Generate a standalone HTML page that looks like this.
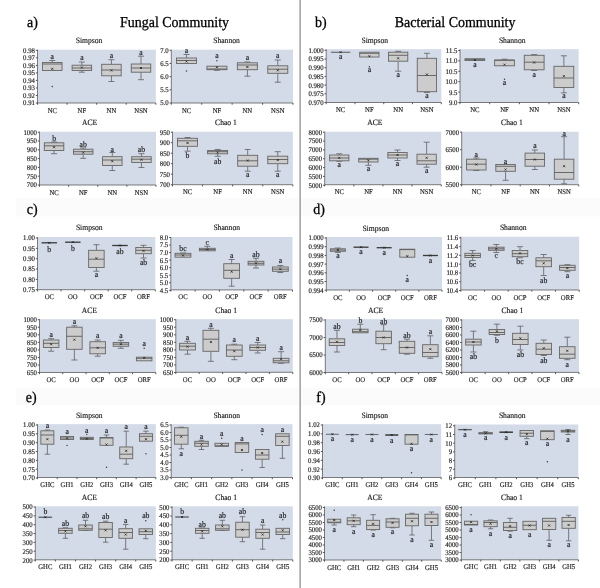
<!DOCTYPE html><html><head><meta charset="utf-8"><title>Figure</title><style>html,body{margin:0;padding:0;background:#fff}svg{display:block}text{font-family:"Liberation Serif",serif;fill:#1a1a1a;text-rendering:geometricPrecision;stroke:#1a1a1a;stroke-width:0.15px}text.big{stroke-width:0.3px;fill:#000;stroke:#000}</style></head><body>
<svg width="600" height="588" viewBox="0 0 600 588">
<rect x="0" y="0" width="600" height="588" fill="#fff"/>
<rect x="16" y="198" width="584" height="18.5" fill="#fbfbfb"/><rect x="16" y="387.5" width="584" height="17.5" fill="#fbfbfb"/>
<rect x="299.3" y="0" width="1.7" height="588" fill="#aaaaaa"/>
<text class="big" transform="translate(27 26.8) scale(0.925 1)" font-size="15.1">a)</text>
<text class="big" transform="translate(120 26.8) scale(0.925 1)" font-size="15.1">Fungal Community</text>
<text class="big" transform="translate(315 26.8) scale(0.925 1)" font-size="15.1">b)</text>
<text class="big" transform="translate(394.8 26.8) scale(0.925 1)" font-size="15.1">Bacterial Community</text>
<text class="big" transform="translate(26.7 214.2) scale(0.925 1)" font-size="15.1">c)</text>
<text class="big" transform="translate(313.3 214.2) scale(0.925 1)" font-size="15.1">d)</text>
<text class="big" transform="translate(25.8 402) scale(0.925 1)" font-size="15.1">e)</text>
<text class="big" transform="translate(316.3 402) scale(0.925 1)" font-size="15.1">f)</text>
<g>
<rect x="37.5" y="49.7" width="118.3" height="53.3" fill="#d3dae8"/>
<text transform="translate(89 43.3) scale(0.94 1)" font-size="8.1" text-anchor="middle">Simpson</text>
<path d="M37.5 49.7V103H155.8" fill="none" stroke="#5c5c5c" stroke-width="0.8"/>
<text transform="translate(34.9 52.7) scale(0.94 1)" font-size="7.2" text-anchor="end">0.98</text>
<text transform="translate(34.9 60.23) scale(0.94 1)" font-size="7.2" text-anchor="end">0.97</text>
<text transform="translate(34.9 67.76) scale(0.94 1)" font-size="7.2" text-anchor="end">0.96</text>
<text transform="translate(34.9 75.29) scale(0.94 1)" font-size="7.2" text-anchor="end">0.95</text>
<text transform="translate(34.9 82.81) scale(0.94 1)" font-size="7.2" text-anchor="end">0.94</text>
<text transform="translate(34.9 90.34) scale(0.94 1)" font-size="7.2" text-anchor="end">0.93</text>
<text transform="translate(34.9 97.87) scale(0.94 1)" font-size="7.2" text-anchor="end">0.92</text>
<text transform="translate(34.9 105.4) scale(0.94 1)" font-size="7.2" text-anchor="end">0.91</text>
<path d="M37.5 50.3h-1.7M37.5 57.83h-1.7M37.5 65.36h-1.7M37.5 72.89h-1.7M37.5 80.41h-1.7M37.5 87.94h-1.7M37.5 95.47h-1.7M37.5 103h-1.7M37.5 103v1.7M67.08 103v1.7M96.65 103v1.7M126.23 103v1.7M155.8 103v1.7" stroke="#444" stroke-width="0.9" fill="none"/>
<text transform="translate(52.29 112.55) scale(0.94 1)" font-size="7.1" text-anchor="middle">NC</text>
<text transform="translate(81.86 112.55) scale(0.94 1)" font-size="7.1" text-anchor="middle">NF</text>
<text transform="translate(111.44 112.55) scale(0.94 1)" font-size="7.1" text-anchor="middle">NN</text>
<text transform="translate(141.01 112.55) scale(0.94 1)" font-size="7.1" text-anchor="middle">NSN</text>
<path d="M52.29 62.5V60.5M49.29 60.5h6" stroke="#606060" stroke-width="0.8" fill="none"/>
<rect x="42.54" y="62.5" width="19.5" height="8" fill="#cccccc" stroke="#666" stroke-width="0.9"/>
<path d="M42.54 64h19.5" stroke="#5c5c5c" stroke-width="0.9"/>
<path d="M51.29 67.8l2 2M51.29 69.8l2 -2" stroke="#1c1c1c" stroke-width="0.75"/>
<circle cx="52.29" cy="86.5" r="0.7" fill="#333"/>
<text transform="translate(52.29 59.15) scale(0.94 1)" font-size="8.2" text-anchor="middle">a</text>
<path d="M81.86 65.2V62M78.86 62h6M81.86 70.5V72.2M78.86 72.2h6" stroke="#606060" stroke-width="0.8" fill="none"/>
<rect x="72.11" y="65.2" width="19.5" height="5.3" fill="#cccccc" stroke="#666" stroke-width="0.9"/>
<path d="M72.11 68h19.5" stroke="#5c5c5c" stroke-width="0.9"/>
<path d="M80.86 66.5l2 2M80.86 68.5l2 -2" stroke="#1c1c1c" stroke-width="0.75"/>
<text transform="translate(81.86 60.45) scale(0.94 1)" font-size="8.2" text-anchor="middle">a</text>
<path d="M111.44 64.3V59.7M108.44 59.7h6M111.44 75.8V81.5M108.44 81.5h6" stroke="#606060" stroke-width="0.8" fill="none"/>
<rect x="101.69" y="64.3" width="19.5" height="11.5" fill="#cccccc" stroke="#666" stroke-width="0.9"/>
<path d="M101.69 70h19.5" stroke="#5c5c5c" stroke-width="0.9"/>
<path d="M110.44 69.4l2 2M110.44 71.4l2 -2" stroke="#1c1c1c" stroke-width="0.75"/>
<text transform="translate(111.44 58.35) scale(0.94 1)" font-size="8.2" text-anchor="middle">a</text>
<path d="M141.01 64V56.2M138.01 56.2h6M141.01 72.2V79.7M138.01 79.7h6" stroke="#606060" stroke-width="0.8" fill="none"/>
<rect x="131.26" y="64" width="19.5" height="8.2" fill="#cccccc" stroke="#666" stroke-width="0.9"/>
<path d="M131.26 68h19.5" stroke="#5c5c5c" stroke-width="0.9"/>
<path d="M140.01 67l2 2M140.01 69l2 -2" stroke="#1c1c1c" stroke-width="0.75"/>
<text transform="translate(141.01 54.85) scale(0.94 1)" font-size="8.2" text-anchor="middle">a</text>
</g>
<g>
<rect x="171.3" y="49.7" width="121.7" height="53.3" fill="#d3dae8"/>
<text transform="translate(226.5 43.3) scale(0.94 1)" font-size="8.1" text-anchor="middle">Shannon</text>
<path d="M171.3 49.7V103H293" fill="none" stroke="#5c5c5c" stroke-width="0.8"/>
<text transform="translate(168.7 52.7) scale(0.94 1)" font-size="7.2" text-anchor="end">7.0</text>
<text transform="translate(168.7 65.88) scale(0.94 1)" font-size="7.2" text-anchor="end">6.5</text>
<text transform="translate(168.7 79.05) scale(0.94 1)" font-size="7.2" text-anchor="end">6.0</text>
<text transform="translate(168.7 92.23) scale(0.94 1)" font-size="7.2" text-anchor="end">5.5</text>
<text transform="translate(168.7 105.4) scale(0.94 1)" font-size="7.2" text-anchor="end">5.0</text>
<path d="M171.3 50.3h-1.7M171.3 63.47h-1.7M171.3 76.65h-1.7M171.3 89.83h-1.7M171.3 103h-1.7M171.3 103v1.7M201.73 103v1.7M232.15 103v1.7M262.57 103v1.7M293 103v1.7" stroke="#444" stroke-width="0.9" fill="none"/>
<text transform="translate(186.51 112.55) scale(0.94 1)" font-size="7.1" text-anchor="middle">NC</text>
<text transform="translate(216.94 112.55) scale(0.94 1)" font-size="7.1" text-anchor="middle">NF</text>
<text transform="translate(247.36 112.55) scale(0.94 1)" font-size="7.1" text-anchor="middle">NN</text>
<text transform="translate(277.79 112.55) scale(0.94 1)" font-size="7.1" text-anchor="middle">NSN</text>
<path d="M186.51 58V54.5M183.51 54.5h6" stroke="#606060" stroke-width="0.8" fill="none"/>
<rect x="176.51" y="58" width="20" height="5.5" fill="#cccccc" stroke="#666" stroke-width="0.9"/>
<path d="M176.51 60.5h20" stroke="#5c5c5c" stroke-width="0.9"/>
<path d="M185.51 60.5l2 2M185.51 62.5l2 -2" stroke="#1c1c1c" stroke-width="0.75"/>
<circle cx="186.51" cy="71" r="0.7" fill="#333"/>
<text transform="translate(186.51 52.65) scale(0.94 1)" font-size="8.2" text-anchor="middle">a</text>
<path d="M216.94 69.7V70.3M213.94 70.3h6" stroke="#606060" stroke-width="0.8" fill="none"/>
<rect x="206.94" y="66.2" width="20" height="3.5" fill="#cccccc" stroke="#666" stroke-width="0.9"/>
<path d="M206.94 69h20" stroke="#5c5c5c" stroke-width="0.9"/>
<path d="M215.94 66.2l2 2M215.94 68.2l2 -2" stroke="#1c1c1c" stroke-width="0.75"/>
<circle cx="216.94" cy="60.8" r="0.7" fill="#333"/>
<text transform="translate(216.94 58.35) scale(0.94 1)" font-size="8.2" text-anchor="middle">a</text>
<path d="M247.36 62.8V62M244.36 62h6M247.36 69.7V76.2M244.36 76.2h6" stroke="#606060" stroke-width="0.8" fill="none"/>
<rect x="237.36" y="62.8" width="20" height="6.9" fill="#cccccc" stroke="#666" stroke-width="0.9"/>
<path d="M237.36 65h20" stroke="#5c5c5c" stroke-width="0.9"/>
<path d="M246.36 66l2 2M246.36 68l2 -2" stroke="#1c1c1c" stroke-width="0.75"/>
<text transform="translate(247.36 60.35) scale(0.94 1)" font-size="8.2" text-anchor="middle">a</text>
<path d="M277.79 65.8V60M274.79 60h6M277.79 73.3V82.2M274.79 82.2h6" stroke="#606060" stroke-width="0.8" fill="none"/>
<rect x="267.79" y="65.8" width="20" height="7.5" fill="#cccccc" stroke="#666" stroke-width="0.9"/>
<path d="M267.79 69.2h20" stroke="#5c5c5c" stroke-width="0.9"/>
<path d="M276.79 69.3l2 2M276.79 71.3l2 -2" stroke="#1c1c1c" stroke-width="0.75"/>
<text transform="translate(277.79 58.35) scale(0.94 1)" font-size="8.2" text-anchor="middle">a</text>
</g>
<g>
<rect x="39.5" y="131.7" width="116.5" height="53.3" fill="#d3dae8"/>
<text transform="translate(89.5 125.3) scale(0.94 1)" font-size="8.1" text-anchor="middle">ACE</text>
<path d="M39.5 131.7V185H156" fill="none" stroke="#5c5c5c" stroke-width="0.8"/>
<text transform="translate(36.9 134.6) scale(0.94 1)" font-size="7.2" text-anchor="end">1000</text>
<text transform="translate(36.9 143.4) scale(0.94 1)" font-size="7.2" text-anchor="end">950</text>
<text transform="translate(36.9 152.2) scale(0.94 1)" font-size="7.2" text-anchor="end">900</text>
<text transform="translate(36.9 161) scale(0.94 1)" font-size="7.2" text-anchor="end">850</text>
<text transform="translate(36.9 169.8) scale(0.94 1)" font-size="7.2" text-anchor="end">800</text>
<text transform="translate(36.9 178.6) scale(0.94 1)" font-size="7.2" text-anchor="end">750</text>
<text transform="translate(36.9 187.4) scale(0.94 1)" font-size="7.2" text-anchor="end">700</text>
<path d="M39.5 132.2h-1.7M39.5 141h-1.7M39.5 149.8h-1.7M39.5 158.6h-1.7M39.5 167.4h-1.7M39.5 176.2h-1.7M39.5 185h-1.7M39.5 185v1.7M68.62 185v1.7M97.75 185v1.7M126.88 185v1.7M156 185v1.7" stroke="#444" stroke-width="0.9" fill="none"/>
<text transform="translate(54.06 194.55) scale(0.94 1)" font-size="7.1" text-anchor="middle">NC</text>
<text transform="translate(83.19 194.55) scale(0.94 1)" font-size="7.1" text-anchor="middle">NF</text>
<text transform="translate(112.31 194.55) scale(0.94 1)" font-size="7.1" text-anchor="middle">NN</text>
<text transform="translate(141.44 194.55) scale(0.94 1)" font-size="7.1" text-anchor="middle">NSN</text>
<path d="M54.06 142.8V142M51.06 142h6M54.06 150.5V153.7M51.06 153.7h6" stroke="#606060" stroke-width="0.8" fill="none"/>
<rect x="44.31" y="142.8" width="19.5" height="7.7" fill="#cccccc" stroke="#666" stroke-width="0.9"/>
<path d="M44.31 145.8h19.5" stroke="#5c5c5c" stroke-width="0.9"/>
<path d="M53.06 146.2l2 2M53.06 148.2l2 -2" stroke="#1c1c1c" stroke-width="0.75"/>
<text transform="translate(54.06 141.35) scale(0.94 1)" font-size="8.2" text-anchor="middle">b</text>
<path d="M83.19 149.2V148M80.19 148h6M83.19 154.2V158.3M80.19 158.3h6" stroke="#606060" stroke-width="0.8" fill="none"/>
<rect x="73.44" y="149.2" width="19.5" height="5" fill="#cccccc" stroke="#666" stroke-width="0.9"/>
<path d="M73.44 151.7h19.5" stroke="#5c5c5c" stroke-width="0.9"/>
<path d="M82.19 151.5l2 2M82.19 153.5l2 -2" stroke="#1c1c1c" stroke-width="0.75"/>
<text transform="translate(83.19 146.95) scale(0.94 1)" font-size="8.2" text-anchor="middle">ab</text>
<path d="M112.31 156.7V152.5M109.31 152.5h6M112.31 165.5V170.5M109.31 170.5h6" stroke="#606060" stroke-width="0.8" fill="none"/>
<rect x="102.56" y="156.7" width="19.5" height="8.8" fill="#cccccc" stroke="#666" stroke-width="0.9"/>
<path d="M102.56 160h19.5" stroke="#5c5c5c" stroke-width="0.9"/>
<path d="M111.31 160.2l2 2M111.31 162.2l2 -2" stroke="#1c1c1c" stroke-width="0.75"/>
<text transform="translate(112.31 151.65) scale(0.94 1)" font-size="8.2" text-anchor="middle">a</text>
<path d="M141.44 156.7V153.7M138.44 153.7h6M141.44 162.5V167.5M138.44 167.5h6" stroke="#606060" stroke-width="0.8" fill="none"/>
<rect x="131.69" y="156.7" width="19.5" height="5.8" fill="#cccccc" stroke="#666" stroke-width="0.9"/>
<path d="M131.69 159.2h19.5" stroke="#5c5c5c" stroke-width="0.9"/>
<path d="M140.44 158.7l2 2M140.44 160.7l2 -2" stroke="#1c1c1c" stroke-width="0.75"/>
<text transform="translate(141.44 151.65) scale(0.94 1)" font-size="8.2" text-anchor="middle">ab</text>
</g>
<g>
<rect x="172.5" y="131.7" width="120.3" height="53" fill="#d3dae8"/>
<text transform="translate(226 125.3) scale(0.94 1)" font-size="8.1" text-anchor="middle">Chao 1</text>
<path d="M172.5 131.7V184.7H292.8" fill="none" stroke="#5c5c5c" stroke-width="0.8"/>
<text transform="translate(169.9 134.6) scale(0.94 1)" font-size="7.2" text-anchor="end">950</text>
<text transform="translate(169.9 145.1) scale(0.94 1)" font-size="7.2" text-anchor="end">900</text>
<text transform="translate(169.9 155.6) scale(0.94 1)" font-size="7.2" text-anchor="end">850</text>
<text transform="translate(169.9 166.1) scale(0.94 1)" font-size="7.2" text-anchor="end">800</text>
<text transform="translate(169.9 176.6) scale(0.94 1)" font-size="7.2" text-anchor="end">750</text>
<text transform="translate(169.9 187.1) scale(0.94 1)" font-size="7.2" text-anchor="end">700</text>
<path d="M172.5 132.2h-1.7M172.5 142.7h-1.7M172.5 153.2h-1.7M172.5 163.7h-1.7M172.5 174.2h-1.7M172.5 184.7h-1.7M172.5 184.7v1.7M202.57 184.7v1.7M232.65 184.7v1.7M262.73 184.7v1.7M292.8 184.7v1.7" stroke="#444" stroke-width="0.9" fill="none"/>
<text transform="translate(187.54 194.25) scale(0.94 1)" font-size="7.1" text-anchor="middle">NC</text>
<text transform="translate(217.61 194.25) scale(0.94 1)" font-size="7.1" text-anchor="middle">NF</text>
<text transform="translate(247.69 194.25) scale(0.94 1)" font-size="7.1" text-anchor="middle">NN</text>
<text transform="translate(277.76 194.25) scale(0.94 1)" font-size="7.1" text-anchor="middle">NSN</text>
<path d="M187.54 138.3V137.5M184.54 137.5h6M187.54 146.3V151.2M184.54 151.2h6" stroke="#606060" stroke-width="0.8" fill="none"/>
<rect x="177.54" y="138.3" width="20" height="8" fill="#cccccc" stroke="#666" stroke-width="0.9"/>
<path d="M177.54 140.8h20" stroke="#5c5c5c" stroke-width="0.9"/>
<path d="M186.54 142l2 2M186.54 144l2 -2" stroke="#1c1c1c" stroke-width="0.75"/>
<text transform="translate(187.54 158.25) scale(0.94 1)" font-size="8.2" text-anchor="middle">b</text>
<path d="M217.61 150.5V149.5M214.61 149.5h6M217.61 153.8V156.3M214.61 156.3h6" stroke="#606060" stroke-width="0.8" fill="none"/>
<rect x="207.61" y="150.5" width="20" height="3.3" fill="#cccccc" stroke="#666" stroke-width="0.9"/>
<path d="M207.61 151.7h20" stroke="#5c5c5c" stroke-width="0.9"/>
<path d="M216.61 151.5l2 2M216.61 153.5l2 -2" stroke="#1c1c1c" stroke-width="0.75"/>
<text transform="translate(217.61 163.75) scale(0.94 1)" font-size="8.2" text-anchor="middle">ab</text>
<path d="M247.69 155.3V149.5M244.69 149.5h6M247.69 166.2V171.2M244.69 171.2h6" stroke="#606060" stroke-width="0.8" fill="none"/>
<rect x="237.69" y="155.3" width="20" height="10.9" fill="#cccccc" stroke="#666" stroke-width="0.9"/>
<path d="M237.69 160.8h20" stroke="#5c5c5c" stroke-width="0.9"/>
<path d="M246.69 159.5l2 2M246.69 161.5l2 -2" stroke="#1c1c1c" stroke-width="0.75"/>
<text transform="translate(247.69 177.15) scale(0.94 1)" font-size="8.2" text-anchor="middle">a</text>
<path d="M277.76 156.2V151.7M274.76 151.7h6M277.76 163.7V171.2M274.76 171.2h6" stroke="#606060" stroke-width="0.8" fill="none"/>
<rect x="267.76" y="156.2" width="20" height="7.5" fill="#cccccc" stroke="#666" stroke-width="0.9"/>
<path d="M267.76 159.5h20" stroke="#5c5c5c" stroke-width="0.9"/>
<path d="M276.76 159l2 2M276.76 161l2 -2" stroke="#1c1c1c" stroke-width="0.75"/>
<text transform="translate(277.76 177.15) scale(0.94 1)" font-size="8.2" text-anchor="middle">a</text>
</g>
<g>
<rect x="326.2" y="49.2" width="115.1" height="53.3" fill="#d3dae8"/>
<text transform="translate(374.8 42.8) scale(0.94 1)" font-size="8.1" text-anchor="middle">Simpson</text>
<path d="M326.2 49.2V102.5H441.3" fill="none" stroke="#5c5c5c" stroke-width="0.8"/>
<text transform="translate(323.6 52.7) scale(0.94 1)" font-size="7.2" text-anchor="end">1.000</text>
<text transform="translate(323.6 61.4) scale(0.94 1)" font-size="7.2" text-anchor="end">0.995</text>
<text transform="translate(323.6 70.1) scale(0.94 1)" font-size="7.2" text-anchor="end">0.990</text>
<text transform="translate(323.6 78.8) scale(0.94 1)" font-size="7.2" text-anchor="end">0.985</text>
<text transform="translate(323.6 87.5) scale(0.94 1)" font-size="7.2" text-anchor="end">0.980</text>
<text transform="translate(323.6 96.2) scale(0.94 1)" font-size="7.2" text-anchor="end">0.975</text>
<text transform="translate(323.6 104.9) scale(0.94 1)" font-size="7.2" text-anchor="end">0.970</text>
<path d="M326.2 50.3h-1.7M326.2 59h-1.7M326.2 67.7h-1.7M326.2 76.4h-1.7M326.2 85.1h-1.7M326.2 93.8h-1.7M326.2 102.5h-1.7M326.2 102.5v1.7M354.98 102.5v1.7M383.75 102.5v1.7M412.52 102.5v1.7M441.3 102.5v1.7" stroke="#444" stroke-width="0.9" fill="none"/>
<text transform="translate(340.59 112.05) scale(0.94 1)" font-size="7.1" text-anchor="middle">NC</text>
<text transform="translate(369.36 112.05) scale(0.94 1)" font-size="7.1" text-anchor="middle">NF</text>
<text transform="translate(398.14 112.05) scale(0.94 1)" font-size="7.1" text-anchor="middle">NN</text>
<text transform="translate(426.91 112.05) scale(0.94 1)" font-size="7.1" text-anchor="middle">NSN</text>
<rect x="330.94" y="51.8" width="19.3" height="0.8" fill="#3a3a3a"/>
<path d="M339.59 51.2l2 2M339.59 53.2l2 -2" stroke="#1c1c1c" stroke-width="0.75"/>
<text transform="translate(340.59 59.15) scale(0.94 1)" font-size="8.2" text-anchor="middle">a</text>
<rect x="359.71" y="52.2" width="19.3" height="4.8" fill="#cccccc" stroke="#666" stroke-width="0.9"/>
<path d="M359.71 53.3h19.3" stroke="#5c5c5c" stroke-width="0.9"/>
<path d="M368.36 55.3l2 2M368.36 57.3l2 -2" stroke="#1c1c1c" stroke-width="0.75"/>
<circle cx="369.36" cy="66.7" r="0.7" fill="#333"/>
<text transform="translate(369.36 72.45) scale(0.94 1)" font-size="8.2" text-anchor="middle">a</text>
<path d="M398.14 52.2V51.3M395.14 51.3h6M398.14 61.2V71.2M395.14 71.2h6" stroke="#606060" stroke-width="0.8" fill="none"/>
<rect x="388.49" y="52.2" width="19.3" height="9" fill="#cccccc" stroke="#666" stroke-width="0.9"/>
<path d="M388.49 55.3h19.3" stroke="#5c5c5c" stroke-width="0.9"/>
<path d="M397.14 57.3l2 2M397.14 59.3l2 -2" stroke="#1c1c1c" stroke-width="0.75"/>
<text transform="translate(398.14 77.45) scale(0.94 1)" font-size="8.2" text-anchor="middle">a</text>
<path d="M426.91 58.3V53.3M423.91 53.3h6M426.91 91.7V92.5M423.91 92.5h6" stroke="#606060" stroke-width="0.8" fill="none"/>
<rect x="417.26" y="58.3" width="19.3" height="33.4" fill="#cccccc" stroke="#666" stroke-width="0.9"/>
<path d="M417.26 75.5h19.3" stroke="#5c5c5c" stroke-width="0.9"/>
<path d="M425.91 73.5l2 2M425.91 75.5l2 -2" stroke="#1c1c1c" stroke-width="0.75"/>
<text transform="translate(426.91 98.25) scale(0.94 1)" font-size="8.2" text-anchor="middle">a</text>
</g>
<g>
<rect x="460" y="49.2" width="118.7" height="53.3" fill="#d3dae8"/>
<text transform="translate(512.2 42.8) scale(0.94 1)" font-size="8.1" text-anchor="middle">Shannon</text>
<path d="M460 49.2V102.5H578.7" fill="none" stroke="#5c5c5c" stroke-width="0.8"/>
<text transform="translate(457.4 52.9) scale(0.94 1)" font-size="7.2" text-anchor="end">11.5</text>
<text transform="translate(457.4 63.3) scale(0.94 1)" font-size="7.2" text-anchor="end">11.0</text>
<text transform="translate(457.4 73.7) scale(0.94 1)" font-size="7.2" text-anchor="end">10.5</text>
<text transform="translate(457.4 84.1) scale(0.94 1)" font-size="7.2" text-anchor="end">10.0</text>
<text transform="translate(457.4 94.5) scale(0.94 1)" font-size="7.2" text-anchor="end">9.5</text>
<text transform="translate(457.4 104.9) scale(0.94 1)" font-size="7.2" text-anchor="end">9.0</text>
<path d="M460 50.5h-1.7M460 60.9h-1.7M460 71.3h-1.7M460 81.7h-1.7M460 92.1h-1.7M460 102.5h-1.7M460 102.5v1.7M489.68 102.5v1.7M519.35 102.5v1.7M549.03 102.5v1.7M578.7 102.5v1.7" stroke="#444" stroke-width="0.9" fill="none"/>
<text transform="translate(474.84 112.05) scale(0.94 1)" font-size="7.1" text-anchor="middle">NC</text>
<text transform="translate(504.51 112.05) scale(0.94 1)" font-size="7.1" text-anchor="middle">NF</text>
<text transform="translate(534.19 112.05) scale(0.94 1)" font-size="7.1" text-anchor="middle">NN</text>
<text transform="translate(563.86 112.05) scale(0.94 1)" font-size="7.1" text-anchor="middle">NSN</text>
<rect x="464.94" y="58.8" width="19.8" height="1.7" fill="#cccccc" stroke="#666" stroke-width="0.9"/>
<path d="M464.94 59.3h19.8" stroke="#5c5c5c" stroke-width="0.9"/>
<path d="M473.84 59l2 2M473.84 61l2 -2" stroke="#1c1c1c" stroke-width="0.75"/>
<text transform="translate(474.84 67.45) scale(0.94 1)" font-size="8.2" text-anchor="middle">a</text>
<path d="M504.51 60V59.2M501.51 59.2h6" stroke="#606060" stroke-width="0.8" fill="none"/>
<rect x="494.61" y="60" width="19.8" height="5.8" fill="#cccccc" stroke="#666" stroke-width="0.9"/>
<path d="M494.61 60.3h19.8" stroke="#5c5c5c" stroke-width="0.9"/>
<path d="M503.51 63.7l2 2M503.51 65.7l2 -2" stroke="#1c1c1c" stroke-width="0.75"/>
<circle cx="504.51" cy="79.2" r="0.7" fill="#333"/>
<text transform="translate(504.51 84.95) scale(0.94 1)" font-size="8.2" text-anchor="middle">a</text>
<path d="M534.19 55.3V54.6M531.19 54.6h6M534.19 69.8V70.5M531.19 70.5h6" stroke="#606060" stroke-width="0.8" fill="none"/>
<rect x="524.29" y="55.3" width="19.8" height="14.5" fill="#cccccc" stroke="#666" stroke-width="0.9"/>
<path d="M524.29 62.2h19.8" stroke="#5c5c5c" stroke-width="0.9"/>
<path d="M533.19 61.5l2 2M533.19 63.5l2 -2" stroke="#1c1c1c" stroke-width="0.75"/>
<text transform="translate(534.19 76.75) scale(0.94 1)" font-size="8.2" text-anchor="middle">a</text>
<path d="M563.86 66.3V55.8M560.86 55.8h6M563.86 87.5V92.8M560.86 92.8h6" stroke="#606060" stroke-width="0.8" fill="none"/>
<rect x="553.96" y="66.3" width="19.8" height="21.2" fill="#cccccc" stroke="#666" stroke-width="0.9"/>
<path d="M553.96 78h19.8" stroke="#5c5c5c" stroke-width="0.9"/>
<path d="M562.86 75.2l2 2M562.86 77.2l2 -2" stroke="#1c1c1c" stroke-width="0.75"/>
<text transform="translate(563.86 97.75) scale(0.94 1)" font-size="8.2" text-anchor="middle">a</text>
</g>
<g>
<rect x="324.7" y="131.7" width="116.5" height="53" fill="#d3dae8"/>
<text transform="translate(374.8 125) scale(0.94 1)" font-size="8.1" text-anchor="middle">ACE</text>
<path d="M324.7 131.7V184.7H441.2" fill="none" stroke="#5c5c5c" stroke-width="0.8"/>
<text transform="translate(322.1 134.6) scale(0.94 1)" font-size="7.2" text-anchor="end">8000</text>
<text transform="translate(322.1 143.45) scale(0.94 1)" font-size="7.2" text-anchor="end">7500</text>
<text transform="translate(322.1 152.3) scale(0.94 1)" font-size="7.2" text-anchor="end">7000</text>
<text transform="translate(322.1 161.15) scale(0.94 1)" font-size="7.2" text-anchor="end">6500</text>
<text transform="translate(322.1 170) scale(0.94 1)" font-size="7.2" text-anchor="end">6000</text>
<text transform="translate(322.1 178.85) scale(0.94 1)" font-size="7.2" text-anchor="end">5500</text>
<text transform="translate(322.1 187.7) scale(0.94 1)" font-size="7.2" text-anchor="end">5000</text>
<path d="M324.7 132.2h-1.7M324.7 141.05h-1.7M324.7 149.9h-1.7M324.7 158.75h-1.7M324.7 167.6h-1.7M324.7 176.45h-1.7M324.7 185.3h-1.7M324.7 184.7v1.7M353.82 184.7v1.7M382.95 184.7v1.7M412.07 184.7v1.7M441.2 184.7v1.7" stroke="#444" stroke-width="0.9" fill="none"/>
<text transform="translate(339.26 194.25) scale(0.94 1)" font-size="7.1" text-anchor="middle">NC</text>
<text transform="translate(368.39 194.25) scale(0.94 1)" font-size="7.1" text-anchor="middle">NF</text>
<text transform="translate(397.51 194.25) scale(0.94 1)" font-size="7.1" text-anchor="middle">NN</text>
<text transform="translate(426.64 194.25) scale(0.94 1)" font-size="7.1" text-anchor="middle">NSN</text>
<path d="M339.26 155V153.8M336.26 153.8h6M339.26 160.8V161.3M336.26 161.3h6" stroke="#606060" stroke-width="0.8" fill="none"/>
<rect x="329.61" y="155" width="19.3" height="5.8" fill="#cccccc" stroke="#666" stroke-width="0.9"/>
<path d="M329.61 158h19.3" stroke="#5c5c5c" stroke-width="0.9"/>
<path d="M338.26 156.8l2 2M338.26 158.8l2 -2" stroke="#1c1c1c" stroke-width="0.75"/>
<text transform="translate(339.26 166.95) scale(0.94 1)" font-size="8.2" text-anchor="middle">a</text>
<path d="M368.39 162V165.3M365.39 165.3h6" stroke="#606060" stroke-width="0.8" fill="none"/>
<rect x="358.74" y="158.3" width="19.3" height="3.7" fill="#cccccc" stroke="#666" stroke-width="0.9"/>
<path d="M358.74 159.2h19.3" stroke="#5c5c5c" stroke-width="0.9"/>
<path d="M367.39 159.3l2 2M367.39 161.3l2 -2" stroke="#1c1c1c" stroke-width="0.75"/>
<text transform="translate(368.39 171.15) scale(0.94 1)" font-size="8.2" text-anchor="middle">a</text>
<path d="M397.51 152.5V150M394.51 150h6M397.51 158V160.5M394.51 160.5h6" stroke="#606060" stroke-width="0.8" fill="none"/>
<rect x="387.86" y="152.5" width="19.3" height="5.5" fill="#cccccc" stroke="#666" stroke-width="0.9"/>
<path d="M387.86 155h19.3" stroke="#5c5c5c" stroke-width="0.9"/>
<path d="M396.51 154l2 2M396.51 156l2 -2" stroke="#1c1c1c" stroke-width="0.75"/>
<text transform="translate(397.51 166.25) scale(0.94 1)" font-size="8.2" text-anchor="middle">a</text>
<path d="M426.64 154.2V142.2M423.64 142.2h6M426.64 164.2V167.2M423.64 167.2h6" stroke="#606060" stroke-width="0.8" fill="none"/>
<rect x="416.99" y="154.2" width="19.3" height="10" fill="#cccccc" stroke="#666" stroke-width="0.9"/>
<path d="M416.99 160.8h19.3" stroke="#5c5c5c" stroke-width="0.9"/>
<path d="M425.64 156.8l2 2M425.64 158.8l2 -2" stroke="#1c1c1c" stroke-width="0.75"/>
<text transform="translate(426.64 172.95) scale(0.94 1)" font-size="8.2" text-anchor="middle">a</text>
</g>
<g>
<rect x="461.7" y="131.7" width="117" height="53" fill="#d3dae8"/>
<text transform="translate(512 125) scale(0.94 1)" font-size="8.1" text-anchor="middle">Chao 1</text>
<path d="M461.7 131.7V184.7H578.7" fill="none" stroke="#5c5c5c" stroke-width="0.8"/>
<text transform="translate(459.1 134.6) scale(0.94 1)" font-size="7.2" text-anchor="end">7000</text>
<text transform="translate(459.1 152.1) scale(0.94 1)" font-size="7.2" text-anchor="end">6500</text>
<text transform="translate(459.1 169.6) scale(0.94 1)" font-size="7.2" text-anchor="end">6000</text>
<text transform="translate(459.1 187.1) scale(0.94 1)" font-size="7.2" text-anchor="end">5500</text>
<path d="M461.7 132.2h-1.7M461.7 149.7h-1.7M461.7 167.2h-1.7M461.7 184.7h-1.7M461.7 184.7v1.7M490.95 184.7v1.7M520.2 184.7v1.7M549.45 184.7v1.7M578.7 184.7v1.7" stroke="#444" stroke-width="0.9" fill="none"/>
<text transform="translate(476.32 194.25) scale(0.94 1)" font-size="7.1" text-anchor="middle">NC</text>
<text transform="translate(505.57 194.25) scale(0.94 1)" font-size="7.1" text-anchor="middle">NF</text>
<text transform="translate(534.83 194.25) scale(0.94 1)" font-size="7.1" text-anchor="middle">NN</text>
<text transform="translate(564.08 194.25) scale(0.94 1)" font-size="7.1" text-anchor="middle">NSN</text>
<path d="M476.32 159.2V158M473.32 158h6M476.32 170V170.5M473.32 170.5h6" stroke="#606060" stroke-width="0.8" fill="none"/>
<rect x="466.57" y="159.2" width="19.5" height="10.8" fill="#cccccc" stroke="#666" stroke-width="0.9"/>
<path d="M466.57 164.2h19.5" stroke="#5c5c5c" stroke-width="0.9"/>
<path d="M475.32 163.5l2 2M475.32 165.5l2 -2" stroke="#1c1c1c" stroke-width="0.75"/>
<text transform="translate(476.32 157.15) scale(0.94 1)" font-size="8.2" text-anchor="middle">a</text>
<path d="M505.57 171.3V180.3M502.57 180.3h6" stroke="#606060" stroke-width="0.8" fill="none"/>
<rect x="495.82" y="164.5" width="19.5" height="6.8" fill="#cccccc" stroke="#666" stroke-width="0.9"/>
<path d="M495.82 166.3h19.5" stroke="#5c5c5c" stroke-width="0.9"/>
<path d="M504.57 168.5l2 2M504.57 170.5l2 -2" stroke="#1c1c1c" stroke-width="0.75"/>
<text transform="translate(505.57 164.15) scale(0.94 1)" font-size="8.2" text-anchor="middle">a</text>
<path d="M534.83 153.1V150M531.83 150h6M534.83 166.2V169.5M531.83 169.5h6" stroke="#606060" stroke-width="0.8" fill="none"/>
<rect x="525.08" y="153.1" width="19.5" height="13.1" fill="#cccccc" stroke="#666" stroke-width="0.9"/>
<path d="M525.08 159.5h19.5" stroke="#5c5c5c" stroke-width="0.9"/>
<path d="M533.83 158.5l2 2M533.83 160.5l2 -2" stroke="#1c1c1c" stroke-width="0.75"/>
<text transform="translate(534.83 148.35) scale(0.94 1)" font-size="8.2" text-anchor="middle">a</text>
<path d="M564.08 159.2V136.7M561.08 136.7h6M564.08 179.2V183.8M561.08 183.8h6" stroke="#606060" stroke-width="0.8" fill="none"/>
<rect x="554.33" y="159.2" width="19.5" height="20" fill="#cccccc" stroke="#666" stroke-width="0.9"/>
<path d="M554.33 172.5h19.5" stroke="#5c5c5c" stroke-width="0.9"/>
<path d="M563.08 165.2l2 2M563.08 167.2l2 -2" stroke="#1c1c1c" stroke-width="0.75"/>
<text transform="translate(564.08 136.15) scale(0.94 1)" font-size="8.2" text-anchor="middle">a</text>
</g>
<g>
<rect x="37.5" y="237" width="117.8" height="52.7" fill="#d3dae8"/>
<text transform="translate(89.2 230.3) scale(0.94 1)" font-size="8.1" text-anchor="middle">Simpson</text>
<path d="M37.5 237V289.7H155.3" fill="none" stroke="#5c5c5c" stroke-width="0.8"/>
<text transform="translate(34.9 240.4) scale(0.94 1)" font-size="7.2" text-anchor="end">1.00</text>
<text transform="translate(34.9 250.74) scale(0.94 1)" font-size="7.2" text-anchor="end">0.95</text>
<text transform="translate(34.9 261.08) scale(0.94 1)" font-size="7.2" text-anchor="end">0.90</text>
<text transform="translate(34.9 271.42) scale(0.94 1)" font-size="7.2" text-anchor="end">0.85</text>
<text transform="translate(34.9 281.76) scale(0.94 1)" font-size="7.2" text-anchor="end">0.80</text>
<text transform="translate(34.9 292.1) scale(0.94 1)" font-size="7.2" text-anchor="end">0.75</text>
<path d="M37.5 238h-1.7M37.5 248.34h-1.7M37.5 258.68h-1.7M37.5 269.02h-1.7M37.5 279.36h-1.7M37.5 289.7h-1.7M37.5 289.7v1.7M61.06 289.7v1.7M84.62 289.7v1.7M108.18 289.7v1.7M131.74 289.7v1.7M155.3 289.7v1.7" stroke="#444" stroke-width="0.9" fill="none"/>
<text transform="translate(49.28 299.25) scale(0.94 1)" font-size="7.1" text-anchor="middle">OC</text>
<text transform="translate(72.84 299.25) scale(0.94 1)" font-size="7.1" text-anchor="middle">OO</text>
<text transform="translate(96.4 299.25) scale(0.94 1)" font-size="7.1" text-anchor="middle">OCP</text>
<text transform="translate(119.96 299.25) scale(0.94 1)" font-size="7.1" text-anchor="middle">OCF</text>
<text transform="translate(143.52 299.25) scale(0.94 1)" font-size="7.1" text-anchor="middle">ORF</text>
<rect x="41.53" y="242.15" width="15.5" height="1.3" fill="#3a3a3a"/>
<path d="M48.28 241.8l2 2M48.28 243.8l2 -2" stroke="#1c1c1c" stroke-width="0.75"/>
<text transform="translate(49.28 251.95) scale(0.94 1)" font-size="8.2" text-anchor="middle">b</text>
<rect x="65.09" y="241.55" width="15.5" height="1.3" fill="#3a3a3a"/>
<path d="M71.84 241.2l2 2M71.84 243.2l2 -2" stroke="#1c1c1c" stroke-width="0.75"/>
<text transform="translate(72.84 251.45) scale(0.94 1)" font-size="8.2" text-anchor="middle">b</text>
<path d="M96.4 250.3V244.7M93.4 244.7h6M96.4 267.5V271.2M93.4 271.2h6" stroke="#606060" stroke-width="0.8" fill="none"/>
<rect x="88.65" y="250.3" width="15.5" height="17.2" fill="#cccccc" stroke="#666" stroke-width="0.9"/>
<path d="M88.65 259.2h15.5" stroke="#5c5c5c" stroke-width="0.9"/>
<path d="M95.4 257.3l2 2M95.4 259.3l2 -2" stroke="#1c1c1c" stroke-width="0.75"/>
<text transform="translate(96.4 277.45) scale(0.94 1)" font-size="8.2" text-anchor="middle">a</text>
<rect x="112.21" y="244.85" width="15.5" height="1.3" fill="#3a3a3a"/>
<path d="M118.96 244.5l2 2M118.96 246.5l2 -2" stroke="#1c1c1c" stroke-width="0.75"/>
<text transform="translate(119.96 254.15) scale(0.94 1)" font-size="8.2" text-anchor="middle">ab</text>
<path d="M143.52 247.5V245.3M140.52 245.3h6M143.52 253.7V258M140.52 258h6" stroke="#606060" stroke-width="0.8" fill="none"/>
<rect x="135.77" y="247.5" width="15.5" height="6.2" fill="#cccccc" stroke="#666" stroke-width="0.9"/>
<path d="M135.77 250.3h15.5" stroke="#5c5c5c" stroke-width="0.9"/>
<path d="M142.52 249.8l2 2M142.52 251.8l2 -2" stroke="#1c1c1c" stroke-width="0.75"/>
<text transform="translate(143.52 265.45) scale(0.94 1)" font-size="8.2" text-anchor="middle">ab</text>
</g>
<g>
<rect x="170.8" y="237" width="121.7" height="52.9" fill="#d3dae8"/>
<text transform="translate(226.7 230.3) scale(0.94 1)" font-size="8.1" text-anchor="middle">Shannon</text>
<path d="M170.8 237V289.9H292.5" fill="none" stroke="#5c5c5c" stroke-width="0.8"/>
<text transform="translate(168.2 239.9) scale(0.94 1)" font-size="7.2" text-anchor="end">8.0</text>
<text transform="translate(168.2 247.44) scale(0.94 1)" font-size="7.2" text-anchor="end">7.5</text>
<text transform="translate(168.2 254.99) scale(0.94 1)" font-size="7.2" text-anchor="end">7.0</text>
<text transform="translate(168.2 262.53) scale(0.94 1)" font-size="7.2" text-anchor="end">6.5</text>
<text transform="translate(168.2 270.07) scale(0.94 1)" font-size="7.2" text-anchor="end">6.0</text>
<text transform="translate(168.2 277.61) scale(0.94 1)" font-size="7.2" text-anchor="end">5.5</text>
<text transform="translate(168.2 285.16) scale(0.94 1)" font-size="7.2" text-anchor="end">5.0</text>
<text transform="translate(168.2 292.7) scale(0.94 1)" font-size="7.2" text-anchor="end">4.5</text>
<path d="M170.8 237.5h-1.7M170.8 245.04h-1.7M170.8 252.59h-1.7M170.8 260.13h-1.7M170.8 267.67h-1.7M170.8 275.21h-1.7M170.8 282.76h-1.7M170.8 290.3h-1.7M170.8 289.9v1.7M195.14 289.9v1.7M219.48 289.9v1.7M243.82 289.9v1.7M268.16 289.9v1.7M292.5 289.9v1.7" stroke="#444" stroke-width="0.9" fill="none"/>
<text transform="translate(182.97 299.45) scale(0.94 1)" font-size="7.1" text-anchor="middle">OC</text>
<text transform="translate(207.31 299.45) scale(0.94 1)" font-size="7.1" text-anchor="middle">OO</text>
<text transform="translate(231.65 299.45) scale(0.94 1)" font-size="7.1" text-anchor="middle">OCP</text>
<text transform="translate(255.99 299.45) scale(0.94 1)" font-size="7.1" text-anchor="middle">OCF</text>
<text transform="translate(280.33 299.45) scale(0.94 1)" font-size="7.1" text-anchor="middle">ORF</text>
<path d="M182.97 253.3V253M179.97 253h6" stroke="#606060" stroke-width="0.8" fill="none"/>
<rect x="175.07" y="253.3" width="15.8" height="3.9" fill="#cccccc" stroke="#666" stroke-width="0.9"/>
<path d="M175.07 255h15.8" stroke="#5c5c5c" stroke-width="0.9"/>
<path d="M181.97 254.5l2 2M181.97 256.5l2 -2" stroke="#1c1c1c" stroke-width="0.75"/>
<text transform="translate(182.97 251.35) scale(0.94 1)" font-size="8.2" text-anchor="middle">bc</text>
<path d="M207.31 248.3V246.3M204.31 246.3h6" stroke="#606060" stroke-width="0.8" fill="none"/>
<rect x="199.41" y="248.3" width="15.8" height="2.5" fill="#cccccc" stroke="#666" stroke-width="0.9"/>
<path d="M199.41 249.5h15.8" stroke="#5c5c5c" stroke-width="0.9"/>
<path d="M206.31 248.5l2 2M206.31 250.5l2 -2" stroke="#1c1c1c" stroke-width="0.75"/>
<text transform="translate(207.31 244.65) scale(0.94 1)" font-size="8.2" text-anchor="middle">c</text>
<path d="M231.65 263.7V259.5M228.65 259.5h6M231.65 278.3V286.2M228.65 286.2h6" stroke="#606060" stroke-width="0.8" fill="none"/>
<rect x="223.75" y="263.7" width="15.8" height="14.6" fill="#cccccc" stroke="#666" stroke-width="0.9"/>
<path d="M223.75 270.3h15.8" stroke="#5c5c5c" stroke-width="0.9"/>
<path d="M230.65 270.7l2 2M230.65 272.7l2 -2" stroke="#1c1c1c" stroke-width="0.75"/>
<text transform="translate(231.65 257.85) scale(0.94 1)" font-size="8.2" text-anchor="middle">a</text>
<path d="M255.99 261.3V258.3M252.99 258.3h6M255.99 265V268M252.99 268h6" stroke="#606060" stroke-width="0.8" fill="none"/>
<rect x="248.09" y="261.3" width="15.8" height="3.7" fill="#cccccc" stroke="#666" stroke-width="0.9"/>
<path d="M248.09 263.3h15.8" stroke="#5c5c5c" stroke-width="0.9"/>
<path d="M254.99 262.3l2 2M254.99 264.3l2 -2" stroke="#1c1c1c" stroke-width="0.75"/>
<text transform="translate(255.99 256.65) scale(0.94 1)" font-size="8.2" text-anchor="middle">ab</text>
<path d="M280.33 267V265.5M277.33 265.5h6M280.33 271.3V272.5M277.33 272.5h6" stroke="#606060" stroke-width="0.8" fill="none"/>
<rect x="272.43" y="267" width="15.8" height="4.3" fill="#cccccc" stroke="#666" stroke-width="0.9"/>
<path d="M272.43 269.2h15.8" stroke="#5c5c5c" stroke-width="0.9"/>
<path d="M279.33 268.2l2 2M279.33 270.2l2 -2" stroke="#1c1c1c" stroke-width="0.75"/>
<text transform="translate(280.33 263.35) scale(0.94 1)" font-size="8.2" text-anchor="middle">a</text>
</g>
<g>
<rect x="39.5" y="319.2" width="116.3" height="53.3" fill="#d3dae8"/>
<text transform="translate(89.3 312.8) scale(0.94 1)" font-size="8.1" text-anchor="middle">ACE</text>
<path d="M39.5 319.2V372.5H155.8" fill="none" stroke="#5c5c5c" stroke-width="0.8"/>
<text transform="translate(36.9 322.1) scale(0.94 1)" font-size="7.2" text-anchor="end">1000</text>
<text transform="translate(36.9 329.66) scale(0.94 1)" font-size="7.2" text-anchor="end">950</text>
<text transform="translate(36.9 337.21) scale(0.94 1)" font-size="7.2" text-anchor="end">900</text>
<text transform="translate(36.9 344.77) scale(0.94 1)" font-size="7.2" text-anchor="end">850</text>
<text transform="translate(36.9 352.33) scale(0.94 1)" font-size="7.2" text-anchor="end">800</text>
<text transform="translate(36.9 359.89) scale(0.94 1)" font-size="7.2" text-anchor="end">750</text>
<text transform="translate(36.9 367.44) scale(0.94 1)" font-size="7.2" text-anchor="end">700</text>
<text transform="translate(36.9 375) scale(0.94 1)" font-size="7.2" text-anchor="end">650</text>
<path d="M39.5 319.7h-1.7M39.5 327.26h-1.7M39.5 334.81h-1.7M39.5 342.37h-1.7M39.5 349.93h-1.7M39.5 357.49h-1.7M39.5 365.04h-1.7M39.5 372.6h-1.7M39.5 372.5v1.7M62.76 372.5v1.7M86.02 372.5v1.7M109.28 372.5v1.7M132.54 372.5v1.7M155.8 372.5v1.7" stroke="#444" stroke-width="0.9" fill="none"/>
<text transform="translate(51.13 382.05) scale(0.94 1)" font-size="7.1" text-anchor="middle">OC</text>
<text transform="translate(74.39 382.05) scale(0.94 1)" font-size="7.1" text-anchor="middle">OO</text>
<text transform="translate(97.65 382.05) scale(0.94 1)" font-size="7.1" text-anchor="middle">OCP</text>
<text transform="translate(120.91 382.05) scale(0.94 1)" font-size="7.1" text-anchor="middle">OCF</text>
<text transform="translate(144.17 382.05) scale(0.94 1)" font-size="7.1" text-anchor="middle">ORF</text>
<path d="M51.13 340V338.7M48.13 338.7h6M51.13 347.5V351.2M48.13 351.2h6" stroke="#606060" stroke-width="0.8" fill="none"/>
<rect x="43.38" y="340" width="15.5" height="7.5" fill="#cccccc" stroke="#666" stroke-width="0.9"/>
<path d="M43.38 343.3h15.5" stroke="#5c5c5c" stroke-width="0.9"/>
<path d="M50.13 343.2l2 2M50.13 345.2l2 -2" stroke="#1c1c1c" stroke-width="0.75"/>
<text transform="translate(51.13 337.15) scale(0.94 1)" font-size="8.2" text-anchor="middle">a</text>
<path d="M74.39 327.2V325.8M71.39 325.8h6M74.39 349.3V360M71.39 360h6" stroke="#606060" stroke-width="0.8" fill="none"/>
<rect x="66.64" y="327.2" width="15.5" height="22.1" fill="#cccccc" stroke="#666" stroke-width="0.9"/>
<path d="M66.64 336.3h15.5" stroke="#5c5c5c" stroke-width="0.9"/>
<path d="M73.39 338.7l2 2M73.39 340.7l2 -2" stroke="#1c1c1c" stroke-width="0.75"/>
<text transform="translate(74.39 323.95) scale(0.94 1)" font-size="8.2" text-anchor="middle">a</text>
<path d="M97.65 341.7V340M94.65 340h6M97.65 353.8V356.2M94.65 356.2h6" stroke="#606060" stroke-width="0.8" fill="none"/>
<rect x="89.9" y="341.7" width="15.5" height="12.1" fill="#cccccc" stroke="#666" stroke-width="0.9"/>
<path d="M89.9 347.8h15.5" stroke="#5c5c5c" stroke-width="0.9"/>
<path d="M96.65 346.8l2 2M96.65 348.8l2 -2" stroke="#1c1c1c" stroke-width="0.75"/>
<text transform="translate(97.65 338.15) scale(0.94 1)" font-size="8.2" text-anchor="middle">a</text>
<path d="M120.91 342.5V340.3M117.91 340.3h6M120.91 346.3V348.3M117.91 348.3h6" stroke="#606060" stroke-width="0.8" fill="none"/>
<rect x="113.16" y="342.5" width="15.5" height="3.8" fill="#cccccc" stroke="#666" stroke-width="0.9"/>
<path d="M113.16 344.2h15.5" stroke="#5c5c5c" stroke-width="0.9"/>
<path d="M119.91 343.2l2 2M119.91 345.2l2 -2" stroke="#1c1c1c" stroke-width="0.75"/>
<text transform="translate(120.91 338.35) scale(0.94 1)" font-size="8.2" text-anchor="middle">a</text>
<rect x="136.42" y="357.2" width="15.5" height="3.6" fill="#cccccc" stroke="#666" stroke-width="0.9"/>
<path d="M136.42 358.3h15.5" stroke="#5c5c5c" stroke-width="0.9"/>
<path d="M143.17 356.8l2 2M143.17 358.8l2 -2" stroke="#1c1c1c" stroke-width="0.75"/>
<circle cx="144.17" cy="348.3" r="0.7" fill="#333"/>
<text transform="translate(144.17 346.15) scale(0.94 1)" font-size="8.2" text-anchor="middle">a</text>
</g>
<g>
<rect x="175.8" y="319.2" width="117" height="53.1" fill="#d3dae8"/>
<text transform="translate(226.2 312.8) scale(0.94 1)" font-size="8.1" text-anchor="middle">Chao 1</text>
<path d="M175.8 319.2V372.3H292.8" fill="none" stroke="#5c5c5c" stroke-width="0.8"/>
<text transform="translate(173.2 322.1) scale(0.94 1)" font-size="7.2" text-anchor="end">1000</text>
<text transform="translate(173.2 329.64) scale(0.94 1)" font-size="7.2" text-anchor="end">950</text>
<text transform="translate(173.2 337.19) scale(0.94 1)" font-size="7.2" text-anchor="end">900</text>
<text transform="translate(173.2 344.73) scale(0.94 1)" font-size="7.2" text-anchor="end">850</text>
<text transform="translate(173.2 352.27) scale(0.94 1)" font-size="7.2" text-anchor="end">800</text>
<text transform="translate(173.2 359.81) scale(0.94 1)" font-size="7.2" text-anchor="end">750</text>
<text transform="translate(173.2 367.36) scale(0.94 1)" font-size="7.2" text-anchor="end">700</text>
<text transform="translate(173.2 374.9) scale(0.94 1)" font-size="7.2" text-anchor="end">650</text>
<path d="M175.8 319.7h-1.7M175.8 327.24h-1.7M175.8 334.79h-1.7M175.8 342.33h-1.7M175.8 349.87h-1.7M175.8 357.41h-1.7M175.8 364.96h-1.7M175.8 372.5h-1.7M175.8 372.3v1.7M199.2 372.3v1.7M222.6 372.3v1.7M246 372.3v1.7M269.4 372.3v1.7M292.8 372.3v1.7" stroke="#444" stroke-width="0.9" fill="none"/>
<text transform="translate(187.5 381.85) scale(0.94 1)" font-size="7.1" text-anchor="middle">OC</text>
<text transform="translate(210.9 381.85) scale(0.94 1)" font-size="7.1" text-anchor="middle">OO</text>
<text transform="translate(234.3 381.85) scale(0.94 1)" font-size="7.1" text-anchor="middle">OCP</text>
<text transform="translate(257.7 381.85) scale(0.94 1)" font-size="7.1" text-anchor="middle">OCF</text>
<text transform="translate(281.1 381.85) scale(0.94 1)" font-size="7.1" text-anchor="middle">ORF</text>
<path d="M187.5 343.3V341.3M184.5 341.3h6M187.5 350V354.2M184.5 354.2h6" stroke="#606060" stroke-width="0.8" fill="none"/>
<rect x="179.6" y="343.3" width="15.8" height="6.7" fill="#cccccc" stroke="#666" stroke-width="0.9"/>
<path d="M179.6 346.2h15.8" stroke="#5c5c5c" stroke-width="0.9"/>
<path d="M186.5 345.7l2 2M186.5 347.7l2 -2" stroke="#1c1c1c" stroke-width="0.75"/>
<text transform="translate(187.5 339.95) scale(0.94 1)" font-size="8.2" text-anchor="middle">a</text>
<path d="M210.9 330.3V328.3M207.9 328.3h6M210.9 351.3V361.3M207.9 361.3h6" stroke="#606060" stroke-width="0.8" fill="none"/>
<rect x="203" y="330.3" width="15.8" height="21" fill="#cccccc" stroke="#666" stroke-width="0.9"/>
<path d="M203 339.2h15.8" stroke="#5c5c5c" stroke-width="0.9"/>
<path d="M209.9 341l2 2M209.9 343l2 -2" stroke="#1c1c1c" stroke-width="0.75"/>
<text transform="translate(210.9 326.65) scale(0.94 1)" font-size="8.2" text-anchor="middle">a</text>
<path d="M234.3 345V344.2M231.3 344.2h6M234.3 356.3V359.7M231.3 359.7h6" stroke="#606060" stroke-width="0.8" fill="none"/>
<rect x="226.4" y="345" width="15.8" height="11.3" fill="#cccccc" stroke="#666" stroke-width="0.9"/>
<path d="M226.4 350h15.8" stroke="#5c5c5c" stroke-width="0.9"/>
<path d="M233.3 350.2l2 2M233.3 352.2l2 -2" stroke="#1c1c1c" stroke-width="0.75"/>
<text transform="translate(234.3 341.95) scale(0.94 1)" font-size="8.2" text-anchor="middle">a</text>
<path d="M257.7 345V342.5M254.7 342.5h6M257.7 350.3V353M254.7 353h6" stroke="#606060" stroke-width="0.8" fill="none"/>
<rect x="249.8" y="345" width="15.8" height="5.3" fill="#cccccc" stroke="#666" stroke-width="0.9"/>
<path d="M249.8 347.5h15.8" stroke="#5c5c5c" stroke-width="0.9"/>
<path d="M256.7 346.5l2 2M256.7 348.5l2 -2" stroke="#1c1c1c" stroke-width="0.75"/>
<text transform="translate(257.7 340.85) scale(0.94 1)" font-size="8.2" text-anchor="middle">a</text>
<path d="M281.1 358.3V351.7M278.1 351.7h6M281.1 362.8V363.3M278.1 363.3h6" stroke="#606060" stroke-width="0.8" fill="none"/>
<rect x="273.2" y="358.3" width="15.8" height="4.5" fill="#cccccc" stroke="#666" stroke-width="0.9"/>
<path d="M273.2 360.8h15.8" stroke="#5c5c5c" stroke-width="0.9"/>
<path d="M280.1 358.2l2 2M280.1 360.2l2 -2" stroke="#1c1c1c" stroke-width="0.75"/>
<text transform="translate(281.1 350.35) scale(0.94 1)" font-size="8.2" text-anchor="middle">a</text>
</g>
<g>
<rect x="326.3" y="237" width="115.7" height="53" fill="#d3dae8"/>
<text transform="translate(375.7 230.6) scale(0.94 1)" font-size="8.1" text-anchor="middle">Simpson</text>
<path d="M326.3 237V290H442" fill="none" stroke="#5c5c5c" stroke-width="0.8"/>
<text transform="translate(323.7 240.4) scale(0.94 1)" font-size="7.2" text-anchor="end">1.000</text>
<text transform="translate(323.7 249.1) scale(0.94 1)" font-size="7.2" text-anchor="end">0.999</text>
<text transform="translate(323.7 257.8) scale(0.94 1)" font-size="7.2" text-anchor="end">0.998</text>
<text transform="translate(323.7 266.5) scale(0.94 1)" font-size="7.2" text-anchor="end">0.997</text>
<text transform="translate(323.7 275.2) scale(0.94 1)" font-size="7.2" text-anchor="end">0.996</text>
<text transform="translate(323.7 283.9) scale(0.94 1)" font-size="7.2" text-anchor="end">0.995</text>
<text transform="translate(323.7 292.6) scale(0.94 1)" font-size="7.2" text-anchor="end">0.994</text>
<path d="M326.3 238h-1.7M326.3 246.7h-1.7M326.3 255.4h-1.7M326.3 264.1h-1.7M326.3 272.8h-1.7M326.3 281.5h-1.7M326.3 290.2h-1.7M326.3 290v1.7M349.44 290v1.7M372.58 290v1.7M395.72 290v1.7M418.86 290v1.7M442 290v1.7" stroke="#444" stroke-width="0.9" fill="none"/>
<text transform="translate(337.87 299.55) scale(0.94 1)" font-size="7.1" text-anchor="middle">OC</text>
<text transform="translate(361.01 299.55) scale(0.94 1)" font-size="7.1" text-anchor="middle">OO</text>
<text transform="translate(384.15 299.55) scale(0.94 1)" font-size="7.1" text-anchor="middle">OCP</text>
<text transform="translate(407.29 299.55) scale(0.94 1)" font-size="7.1" text-anchor="middle">OCF</text>
<text transform="translate(430.43 299.55) scale(0.94 1)" font-size="7.1" text-anchor="middle">ORF</text>
<path d="M337.87 248.8V248M334.87 248h6M337.87 251.3V252.5M334.87 252.5h6" stroke="#606060" stroke-width="0.8" fill="none"/>
<rect x="330.37" y="248.8" width="15" height="2.5" fill="#cccccc" stroke="#666" stroke-width="0.9"/>
<path d="M330.37 250h15" stroke="#5c5c5c" stroke-width="0.9"/>
<path d="M336.87 249l2 2M336.87 251l2 -2" stroke="#1c1c1c" stroke-width="0.75"/>
<text transform="translate(337.87 258.25) scale(0.94 1)" font-size="8.2" text-anchor="middle">a</text>
<rect x="353.51" y="246.55" width="15" height="1.3" fill="#3a3a3a"/>
<path d="M360.01 246.2l2 2M360.01 248.2l2 -2" stroke="#1c1c1c" stroke-width="0.75"/>
<text transform="translate(361.01 254.15) scale(0.94 1)" font-size="8.2" text-anchor="middle">a</text>
<rect x="376.65" y="247.05" width="15" height="1.3" fill="#3a3a3a"/>
<path d="M383.15 246.7l2 2M383.15 248.7l2 -2" stroke="#1c1c1c" stroke-width="0.75"/>
<text transform="translate(384.15 254.95) scale(0.94 1)" font-size="8.2" text-anchor="middle">a</text>
<rect x="399.79" y="249.2" width="15" height="8" fill="#cccccc" stroke="#666" stroke-width="0.9"/>
<path d="M399.79 249.6h15" stroke="#5c5c5c" stroke-width="0.9"/>
<path d="M406.29 255.2l2 2M406.29 257.2l2 -2" stroke="#1c1c1c" stroke-width="0.75"/>
<circle cx="407.29" cy="275.5" r="0.7" fill="#333"/>
<text transform="translate(407.29 281.65) scale(0.94 1)" font-size="8.2" text-anchor="middle">a</text>
<rect x="422.93" y="254.85" width="15" height="1.3" fill="#3a3a3a"/>
<path d="M429.43 254.5l2 2M429.43 256.5l2 -2" stroke="#1c1c1c" stroke-width="0.75"/>
<text transform="translate(430.43 262.95) scale(0.94 1)" font-size="8.2" text-anchor="middle">a</text>
</g>
<g>
<rect x="460.8" y="236.7" width="118.4" height="53.3" fill="#d3dae8"/>
<text transform="translate(513.2 230.3) scale(0.94 1)" font-size="8.1" text-anchor="middle">Shannon</text>
<path d="M460.8 236.7V290H579.2" fill="none" stroke="#5c5c5c" stroke-width="0.8"/>
<text transform="translate(458.2 240.2) scale(0.94 1)" font-size="7.2" text-anchor="end">11.6</text>
<text transform="translate(458.2 248.98) scale(0.94 1)" font-size="7.2" text-anchor="end">11.4</text>
<text transform="translate(458.2 257.77) scale(0.94 1)" font-size="7.2" text-anchor="end">11.2</text>
<text transform="translate(458.2 266.55) scale(0.94 1)" font-size="7.2" text-anchor="end">11.0</text>
<text transform="translate(458.2 275.33) scale(0.94 1)" font-size="7.2" text-anchor="end">10.8</text>
<text transform="translate(458.2 284.12) scale(0.94 1)" font-size="7.2" text-anchor="end">10.6</text>
<text transform="translate(458.2 292.9) scale(0.94 1)" font-size="7.2" text-anchor="end">10.4</text>
<path d="M460.8 237.8h-1.7M460.8 246.58h-1.7M460.8 255.37h-1.7M460.8 264.15h-1.7M460.8 272.93h-1.7M460.8 281.72h-1.7M460.8 290.5h-1.7M460.8 290v1.7M484.48 290v1.7M508.16 290v1.7M531.84 290v1.7M555.52 290v1.7M579.2 290v1.7" stroke="#444" stroke-width="0.9" fill="none"/>
<text transform="translate(472.64 299.55) scale(0.94 1)" font-size="7.1" text-anchor="middle">OC</text>
<text transform="translate(496.32 299.55) scale(0.94 1)" font-size="7.1" text-anchor="middle">OO</text>
<text transform="translate(520 299.55) scale(0.94 1)" font-size="7.1" text-anchor="middle">OCP</text>
<text transform="translate(543.68 299.55) scale(0.94 1)" font-size="7.1" text-anchor="middle">OCF</text>
<text transform="translate(567.36 299.55) scale(0.94 1)" font-size="7.1" text-anchor="middle">ORF</text>
<path d="M472.64 253.3V250.5M469.64 250.5h6M472.64 257.5V260.5M469.64 260.5h6" stroke="#606060" stroke-width="0.8" fill="none"/>
<rect x="464.89" y="253.3" width="15.5" height="4.2" fill="#cccccc" stroke="#666" stroke-width="0.9"/>
<path d="M464.89 255.5h15.5" stroke="#5c5c5c" stroke-width="0.9"/>
<path d="M471.64 254.5l2 2M471.64 256.5l2 -2" stroke="#1c1c1c" stroke-width="0.75"/>
<text transform="translate(472.64 267.45) scale(0.94 1)" font-size="8.2" text-anchor="middle">bc</text>
<path d="M496.32 247.2V244.5M493.32 244.5h6M496.32 250.3V252.5M493.32 252.5h6" stroke="#606060" stroke-width="0.8" fill="none"/>
<rect x="488.57" y="247.2" width="15.5" height="3.1" fill="#cccccc" stroke="#666" stroke-width="0.9"/>
<path d="M488.57 248.8h15.5" stroke="#5c5c5c" stroke-width="0.9"/>
<path d="M495.32 247.8l2 2M495.32 249.8l2 -2" stroke="#1c1c1c" stroke-width="0.75"/>
<text transform="translate(496.32 258.25) scale(0.94 1)" font-size="8.2" text-anchor="middle">c</text>
<path d="M520 250.5V246.7M517 246.7h6M520 256.7V257.8M517 257.8h6" stroke="#606060" stroke-width="0.8" fill="none"/>
<rect x="512.25" y="250.5" width="15.5" height="6.2" fill="#cccccc" stroke="#666" stroke-width="0.9"/>
<path d="M512.25 253.7h15.5" stroke="#5c5c5c" stroke-width="0.9"/>
<path d="M519 252.3l2 2M519 254.3l2 -2" stroke="#1c1c1c" stroke-width="0.75"/>
<text transform="translate(520 264.45) scale(0.94 1)" font-size="8.2" text-anchor="middle">bc</text>
<path d="M543.68 257.8V254.5M540.68 254.5h6M543.68 266.7V275.5M540.68 275.5h6" stroke="#606060" stroke-width="0.8" fill="none"/>
<rect x="535.93" y="257.8" width="15.5" height="8.9" fill="#cccccc" stroke="#666" stroke-width="0.9"/>
<path d="M535.93 260.8h15.5" stroke="#5c5c5c" stroke-width="0.9"/>
<path d="M542.68 262.3l2 2M542.68 264.3l2 -2" stroke="#1c1c1c" stroke-width="0.75"/>
<text transform="translate(543.68 282.75) scale(0.94 1)" font-size="8.2" text-anchor="middle">ab</text>
<path d="M567.36 265.3V264.7M564.36 264.7h6M567.36 270.3V271.7M564.36 271.7h6" stroke="#606060" stroke-width="0.8" fill="none"/>
<rect x="559.61" y="265.3" width="15.5" height="5" fill="#cccccc" stroke="#666" stroke-width="0.9"/>
<path d="M559.61 267.5h15.5" stroke="#5c5c5c" stroke-width="0.9"/>
<path d="M566.36 267l2 2M566.36 269l2 -2" stroke="#1c1c1c" stroke-width="0.75"/>
<text transform="translate(567.36 278.25) scale(0.94 1)" font-size="8.2" text-anchor="middle">a</text>
</g>
<g>
<rect x="325.3" y="319.2" width="116.7" height="53.3" fill="#d3dae8"/>
<text transform="translate(375.6 312.8) scale(0.94 1)" font-size="8.1" text-anchor="middle">ACE</text>
<path d="M325.3 319.2V372.5H442" fill="none" stroke="#5c5c5c" stroke-width="0.8"/>
<text transform="translate(322.7 322.4) scale(0.94 1)" font-size="7.2" text-anchor="end">7500</text>
<text transform="translate(322.7 339.9) scale(0.94 1)" font-size="7.2" text-anchor="end">7000</text>
<text transform="translate(322.7 357.4) scale(0.94 1)" font-size="7.2" text-anchor="end">6500</text>
<text transform="translate(322.7 374.9) scale(0.94 1)" font-size="7.2" text-anchor="end">6000</text>
<path d="M325.3 320h-1.7M325.3 337.5h-1.7M325.3 355h-1.7M325.3 372.5h-1.7M325.3 372.5v1.7M348.64 372.5v1.7M371.98 372.5v1.7M395.32 372.5v1.7M418.66 372.5v1.7M442 372.5v1.7" stroke="#444" stroke-width="0.9" fill="none"/>
<text transform="translate(336.97 382.05) scale(0.94 1)" font-size="7.1" text-anchor="middle">OC</text>
<text transform="translate(360.31 382.05) scale(0.94 1)" font-size="7.1" text-anchor="middle">OO</text>
<text transform="translate(383.65 382.05) scale(0.94 1)" font-size="7.1" text-anchor="middle">OCP</text>
<text transform="translate(406.99 382.05) scale(0.94 1)" font-size="7.1" text-anchor="middle">OCF</text>
<text transform="translate(430.33 382.05) scale(0.94 1)" font-size="7.1" text-anchor="middle">ORF</text>
<path d="M336.97 338.8V330.3M333.97 330.3h6M336.97 345.5V352M333.97 352h6" stroke="#606060" stroke-width="0.8" fill="none"/>
<rect x="329.22" y="338.8" width="15.5" height="6.7" fill="#cccccc" stroke="#666" stroke-width="0.9"/>
<path d="M329.22 342.5h15.5" stroke="#5c5c5c" stroke-width="0.9"/>
<path d="M335.97 340.7l2 2M335.97 342.7l2 -2" stroke="#1c1c1c" stroke-width="0.75"/>
<text transform="translate(336.97 329.15) scale(0.94 1)" font-size="8.2" text-anchor="middle">ab</text>
<path d="M360.31 329.2V324.2M357.31 324.2h6" stroke="#606060" stroke-width="0.8" fill="none"/>
<rect x="352.56" y="329.2" width="15.5" height="3.6" fill="#cccccc" stroke="#666" stroke-width="0.9"/>
<path d="M352.56 331.7h15.5" stroke="#5c5c5c" stroke-width="0.9"/>
<path d="M359.31 329l2 2M359.31 331l2 -2" stroke="#1c1c1c" stroke-width="0.75"/>
<text transform="translate(360.31 322.85) scale(0.94 1)" font-size="8.2" text-anchor="middle">b</text>
<path d="M383.65 331.2V324.7M380.65 324.7h6M383.65 343.7V349.7M380.65 349.7h6" stroke="#606060" stroke-width="0.8" fill="none"/>
<rect x="375.9" y="331.2" width="15.5" height="12.5" fill="#cccccc" stroke="#666" stroke-width="0.9"/>
<path d="M375.9 337.5h15.5" stroke="#5c5c5c" stroke-width="0.9"/>
<path d="M382.65 336.5l2 2M382.65 338.5l2 -2" stroke="#1c1c1c" stroke-width="0.75"/>
<text transform="translate(383.65 323.85) scale(0.94 1)" font-size="8.2" text-anchor="middle">ab</text>
<path d="M406.99 341.3V339.2M403.99 339.2h6M406.99 353.3V354.2M403.99 354.2h6" stroke="#606060" stroke-width="0.8" fill="none"/>
<rect x="399.24" y="341.3" width="15.5" height="12" fill="#cccccc" stroke="#666" stroke-width="0.9"/>
<path d="M399.24 347.5h15.5" stroke="#5c5c5c" stroke-width="0.9"/>
<path d="M405.99 346.5l2 2M405.99 348.5l2 -2" stroke="#1c1c1c" stroke-width="0.75"/>
<text transform="translate(406.99 337.95) scale(0.94 1)" font-size="8.2" text-anchor="middle">ab</text>
<path d="M430.33 344.7V335.8M427.33 335.8h6M430.33 356.7V358.3M427.33 358.3h6" stroke="#606060" stroke-width="0.8" fill="none"/>
<rect x="422.58" y="344.7" width="15.5" height="12" fill="#cccccc" stroke="#666" stroke-width="0.9"/>
<path d="M422.58 352.5h15.5" stroke="#5c5c5c" stroke-width="0.9"/>
<path d="M429.33 348.2l2 2M429.33 350.2l2 -2" stroke="#1c1c1c" stroke-width="0.75"/>
<text transform="translate(430.33 334.15) scale(0.94 1)" font-size="8.2" text-anchor="middle">a</text>
</g>
<g>
<rect x="461.7" y="319.2" width="117.3" height="53.2" fill="#d3dae8"/>
<text transform="translate(512.4 312.8) scale(0.94 1)" font-size="8.1" text-anchor="middle">Chao 1</text>
<path d="M461.7 319.2V372.4H579" fill="none" stroke="#5c5c5c" stroke-width="0.8"/>
<text transform="translate(459.1 322.4) scale(0.94 1)" font-size="7.2" text-anchor="end">7000</text>
<text transform="translate(459.1 329.9) scale(0.94 1)" font-size="7.2" text-anchor="end">6800</text>
<text transform="translate(459.1 337.4) scale(0.94 1)" font-size="7.2" text-anchor="end">6600</text>
<text transform="translate(459.1 344.9) scale(0.94 1)" font-size="7.2" text-anchor="end">6400</text>
<text transform="translate(459.1 352.4) scale(0.94 1)" font-size="7.2" text-anchor="end">6200</text>
<text transform="translate(459.1 359.9) scale(0.94 1)" font-size="7.2" text-anchor="end">6000</text>
<text transform="translate(459.1 367.4) scale(0.94 1)" font-size="7.2" text-anchor="end">5800</text>
<text transform="translate(459.1 374.9) scale(0.94 1)" font-size="7.2" text-anchor="end">5600</text>
<path d="M461.7 320h-1.7M461.7 327.5h-1.7M461.7 335h-1.7M461.7 342.5h-1.7M461.7 350h-1.7M461.7 357.5h-1.7M461.7 365h-1.7M461.7 372.5h-1.7M461.7 372.4v1.7M485.16 372.4v1.7M508.62 372.4v1.7M532.08 372.4v1.7M555.54 372.4v1.7M579 372.4v1.7" stroke="#444" stroke-width="0.9" fill="none"/>
<text transform="translate(473.43 381.95) scale(0.94 1)" font-size="7.1" text-anchor="middle">OC</text>
<text transform="translate(496.89 381.95) scale(0.94 1)" font-size="7.1" text-anchor="middle">OO</text>
<text transform="translate(520.35 381.95) scale(0.94 1)" font-size="7.1" text-anchor="middle">OCP</text>
<text transform="translate(543.81 381.95) scale(0.94 1)" font-size="7.1" text-anchor="middle">OCF</text>
<text transform="translate(567.27 381.95) scale(0.94 1)" font-size="7.1" text-anchor="middle">ORF</text>
<path d="M473.43 339.2V331.2M470.43 331.2h6M473.43 345V352M470.43 352h6" stroke="#606060" stroke-width="0.8" fill="none"/>
<rect x="465.68" y="339.2" width="15.5" height="5.8" fill="#cccccc" stroke="#666" stroke-width="0.9"/>
<path d="M465.68 342h15.5" stroke="#5c5c5c" stroke-width="0.9"/>
<path d="M472.43 341l2 2M472.43 343l2 -2" stroke="#1c1c1c" stroke-width="0.75"/>
<text transform="translate(473.43 358.75) scale(0.94 1)" font-size="8.2" text-anchor="middle">ab</text>
<path d="M496.89 329.5V324.2M493.89 324.2h6M496.89 334.5V335.3M493.89 335.3h6" stroke="#606060" stroke-width="0.8" fill="none"/>
<rect x="489.14" y="329.5" width="15.5" height="5" fill="#cccccc" stroke="#666" stroke-width="0.9"/>
<path d="M489.14 332.5h15.5" stroke="#5c5c5c" stroke-width="0.9"/>
<path d="M495.89 330.3l2 2M495.89 332.3l2 -2" stroke="#1c1c1c" stroke-width="0.75"/>
<text transform="translate(496.89 342.95) scale(0.94 1)" font-size="8.2" text-anchor="middle">b</text>
<path d="M520.35 333.3V326.2M517.35 326.2h6M520.35 344.5V350M517.35 350h6" stroke="#606060" stroke-width="0.8" fill="none"/>
<rect x="512.6" y="333.3" width="15.5" height="11.2" fill="#cccccc" stroke="#666" stroke-width="0.9"/>
<path d="M512.6 339.5h15.5" stroke="#5c5c5c" stroke-width="0.9"/>
<path d="M519.35 337.3l2 2M519.35 339.3l2 -2" stroke="#1c1c1c" stroke-width="0.75"/>
<text transform="translate(520.35 357.15) scale(0.94 1)" font-size="8.2" text-anchor="middle">ab</text>
<path d="M543.81 343.3V340M540.81 340h6M543.81 354.5V355.5M540.81 355.5h6" stroke="#606060" stroke-width="0.8" fill="none"/>
<rect x="536.06" y="343.3" width="15.5" height="11.2" fill="#cccccc" stroke="#666" stroke-width="0.9"/>
<path d="M536.06 349.2h15.5" stroke="#5c5c5c" stroke-width="0.9"/>
<path d="M542.81 347.3l2 2M542.81 349.3l2 -2" stroke="#1c1c1c" stroke-width="0.75"/>
<text transform="translate(543.81 362.75) scale(0.94 1)" font-size="8.2" text-anchor="middle">ab</text>
<path d="M567.27 346.7V337.2M564.27 337.2h6M567.27 358.3V359.7M564.27 359.7h6" stroke="#606060" stroke-width="0.8" fill="none"/>
<rect x="559.52" y="346.7" width="15.5" height="11.6" fill="#cccccc" stroke="#666" stroke-width="0.9"/>
<path d="M559.52 354.2h15.5" stroke="#5c5c5c" stroke-width="0.9"/>
<path d="M566.27 349.8l2 2M566.27 351.8l2 -2" stroke="#1c1c1c" stroke-width="0.75"/>
<text transform="translate(567.27 366.65) scale(0.94 1)" font-size="8.2" text-anchor="middle">a</text>
</g>
<g>
<rect x="37.5" y="424.2" width="118.3" height="53.3" fill="#d3dae8"/>
<text transform="translate(89.2 417.8) scale(0.94 1)" font-size="8.1" text-anchor="middle">Simpson</text>
<path d="M37.5 424.2V477.5H155.8" fill="none" stroke="#5c5c5c" stroke-width="0.8"/>
<text transform="translate(34.9 427.4) scale(0.94 1)" font-size="7.2" text-anchor="end">1.00</text>
<text transform="translate(34.9 436.23) scale(0.94 1)" font-size="7.2" text-anchor="end">0.95</text>
<text transform="translate(34.9 445.07) scale(0.94 1)" font-size="7.2" text-anchor="end">0.90</text>
<text transform="translate(34.9 453.9) scale(0.94 1)" font-size="7.2" text-anchor="end">0.85</text>
<text transform="translate(34.9 462.73) scale(0.94 1)" font-size="7.2" text-anchor="end">0.80</text>
<text transform="translate(34.9 471.57) scale(0.94 1)" font-size="7.2" text-anchor="end">0.75</text>
<text transform="translate(34.9 480.4) scale(0.94 1)" font-size="7.2" text-anchor="end">0.70</text>
<path d="M37.5 425h-1.7M37.5 433.83h-1.7M37.5 442.67h-1.7M37.5 451.5h-1.7M37.5 460.33h-1.7M37.5 469.17h-1.7M37.5 478h-1.7M37.5 477.5v1.7M57.22 477.5v1.7M76.93 477.5v1.7M96.65 477.5v1.7M116.37 477.5v1.7M136.08 477.5v1.7M155.8 477.5v1.7" stroke="#444" stroke-width="0.9" fill="none"/>
<text transform="translate(47.36 487.05) scale(0.94 1)" font-size="7.1" text-anchor="middle">GHC</text>
<text transform="translate(67.08 487.05) scale(0.94 1)" font-size="7.1" text-anchor="middle">GH1</text>
<text transform="translate(86.79 487.05) scale(0.94 1)" font-size="7.1" text-anchor="middle">GH2</text>
<text transform="translate(106.51 487.05) scale(0.94 1)" font-size="7.1" text-anchor="middle">GH3</text>
<text transform="translate(126.23 487.05) scale(0.94 1)" font-size="7.1" text-anchor="middle">GH4</text>
<text transform="translate(145.94 487.05) scale(0.94 1)" font-size="7.1" text-anchor="middle">GH5</text>
<path d="M47.36 430.8V430M44.66 430h5.4M47.36 444.2V454.2M44.66 454.2h5.4" stroke="#606060" stroke-width="0.8" fill="none"/>
<rect x="40.86" y="430.8" width="13" height="13.4" fill="#cccccc" stroke="#666" stroke-width="0.9"/>
<path d="M40.86 435h13" stroke="#5c5c5c" stroke-width="0.9"/>
<path d="M46.36 438.2l2 2M46.36 440.2l2 -2" stroke="#1c1c1c" stroke-width="0.75"/>
<text transform="translate(47.36 428.35) scale(0.94 1)" font-size="8.2" text-anchor="middle">a</text>
<rect x="60.58" y="436.5" width="13" height="3" fill="#cccccc" stroke="#666" stroke-width="0.9"/>
<path d="M60.58 438h13" stroke="#5c5c5c" stroke-width="0.9"/>
<path d="M66.08 437.3l2 2M66.08 439.3l2 -2" stroke="#1c1c1c" stroke-width="0.75"/>
<circle cx="67.08" cy="445.4" r="0.7" fill="#333"/>
<text transform="translate(67.08 434.25) scale(0.94 1)" font-size="8.2" text-anchor="middle">a</text>
<rect x="80.29" y="437.3" width="13" height="2.2" fill="#cccccc" stroke="#666" stroke-width="0.9"/>
<path d="M80.29 438.5h13" stroke="#5c5c5c" stroke-width="0.9"/>
<path d="M85.79 437.7l2 2M85.79 439.7l2 -2" stroke="#1c1c1c" stroke-width="0.75"/>
<circle cx="86.79" cy="434.6" r="0.7" fill="#333"/>
<text transform="translate(86.79 432.65) scale(0.94 1)" font-size="8.2" text-anchor="middle">a</text>
<path d="M106.51 437.5V435M103.81 435h5.4" stroke="#606060" stroke-width="0.8" fill="none"/>
<rect x="100.01" y="437.5" width="13" height="7.8" fill="#cccccc" stroke="#666" stroke-width="0.9"/>
<path d="M100.01 438h13" stroke="#5c5c5c" stroke-width="0.9"/>
<path d="M105.51 443.5l2 2M105.51 445.5l2 -2" stroke="#1c1c1c" stroke-width="0.75"/>
<circle cx="106.51" cy="467.2" r="0.7" fill="#333"/>
<text transform="translate(106.51 433.35) scale(0.94 1)" font-size="8.2" text-anchor="middle">a</text>
<path d="M126.23 447V431.2M123.53 431.2h5.4M126.23 458.7V464.2M123.53 464.2h5.4" stroke="#606060" stroke-width="0.8" fill="none"/>
<rect x="119.73" y="447" width="13" height="11.7" fill="#cccccc" stroke="#666" stroke-width="0.9"/>
<path d="M119.73 454.2h13" stroke="#5c5c5c" stroke-width="0.9"/>
<path d="M125.23 449.8l2 2M125.23 451.8l2 -2" stroke="#1c1c1c" stroke-width="0.75"/>
<text transform="translate(126.23 429.15) scale(0.94 1)" font-size="8.2" text-anchor="middle">a</text>
<path d="M145.94 433.7V431.2M143.24 431.2h5.4" stroke="#606060" stroke-width="0.8" fill="none"/>
<rect x="139.44" y="433.7" width="13" height="7.5" fill="#cccccc" stroke="#666" stroke-width="0.9"/>
<path d="M139.44 436.3h13" stroke="#5c5c5c" stroke-width="0.9"/>
<path d="M144.94 438.2l2 2M144.94 440.2l2 -2" stroke="#1c1c1c" stroke-width="0.75"/>
<circle cx="145.94" cy="453.7" r="0.7" fill="#333"/>
<text transform="translate(145.94 429.15) scale(0.94 1)" font-size="8.2" text-anchor="middle">a</text>
</g>
<g>
<rect x="171.2" y="424.2" width="121.3" height="53.3" fill="#d3dae8"/>
<text transform="translate(226.7 417.8) scale(0.94 1)" font-size="8.1" text-anchor="middle">Shannon</text>
<path d="M171.2 424.2V477.5H292.5" fill="none" stroke="#5c5c5c" stroke-width="0.8"/>
<text transform="translate(168.6 427.4) scale(0.94 1)" font-size="7.2" text-anchor="end">6.5</text>
<text transform="translate(168.6 434.9) scale(0.94 1)" font-size="7.2" text-anchor="end">6.0</text>
<text transform="translate(168.6 442.4) scale(0.94 1)" font-size="7.2" text-anchor="end">5.5</text>
<text transform="translate(168.6 449.9) scale(0.94 1)" font-size="7.2" text-anchor="end">5.0</text>
<text transform="translate(168.6 457.4) scale(0.94 1)" font-size="7.2" text-anchor="end">4.5</text>
<text transform="translate(168.6 464.9) scale(0.94 1)" font-size="7.2" text-anchor="end">4.0</text>
<text transform="translate(168.6 472.4) scale(0.94 1)" font-size="7.2" text-anchor="end">3.5</text>
<text transform="translate(168.6 479.9) scale(0.94 1)" font-size="7.2" text-anchor="end">3.0</text>
<path d="M171.2 425h-1.7M171.2 432.5h-1.7M171.2 440h-1.7M171.2 447.5h-1.7M171.2 455h-1.7M171.2 462.5h-1.7M171.2 470h-1.7M171.2 477.5h-1.7M171.2 477.5v1.7M191.42 477.5v1.7M211.63 477.5v1.7M231.85 477.5v1.7M252.07 477.5v1.7M272.28 477.5v1.7M292.5 477.5v1.7" stroke="#444" stroke-width="0.9" fill="none"/>
<text transform="translate(181.31 487.05) scale(0.94 1)" font-size="7.1" text-anchor="middle">GHC</text>
<text transform="translate(201.52 487.05) scale(0.94 1)" font-size="7.1" text-anchor="middle">GH1</text>
<text transform="translate(221.74 487.05) scale(0.94 1)" font-size="7.1" text-anchor="middle">GH2</text>
<text transform="translate(241.96 487.05) scale(0.94 1)" font-size="7.1" text-anchor="middle">GH3</text>
<text transform="translate(262.18 487.05) scale(0.94 1)" font-size="7.1" text-anchor="middle">GH4</text>
<text transform="translate(282.39 487.05) scale(0.94 1)" font-size="7.1" text-anchor="middle">GH5</text>
<path d="M181.31 427.8V427.2M178.61 427.2h5.4M181.31 444.2V448.8M178.61 448.8h5.4" stroke="#606060" stroke-width="0.8" fill="none"/>
<rect x="174.56" y="427.8" width="13.5" height="16.4" fill="#cccccc" stroke="#666" stroke-width="0.9"/>
<path d="M174.56 435.3h13.5" stroke="#5c5c5c" stroke-width="0.9"/>
<path d="M180.31 435.7l2 2M180.31 437.7l2 -2" stroke="#1c1c1c" stroke-width="0.75"/>
<text transform="translate(181.31 455.75) scale(0.94 1)" font-size="8.2" text-anchor="middle">a</text>
<path d="M201.52 441.3V440.3M198.82 440.3h5.4M201.52 446.3V449.5M198.82 449.5h5.4" stroke="#606060" stroke-width="0.8" fill="none"/>
<rect x="194.77" y="441.3" width="13.5" height="5" fill="#cccccc" stroke="#666" stroke-width="0.9"/>
<path d="M194.77 443.3h13.5" stroke="#5c5c5c" stroke-width="0.9"/>
<path d="M200.52 443.5l2 2M200.52 445.5l2 -2" stroke="#1c1c1c" stroke-width="0.75"/>
<text transform="translate(201.52 438.85) scale(0.94 1)" font-size="8.2" text-anchor="middle">a</text>
<rect x="214.99" y="443.3" width="13.5" height="3" fill="#cccccc" stroke="#666" stroke-width="0.9"/>
<path d="M214.99 445.8h13.5" stroke="#5c5c5c" stroke-width="0.9"/>
<path d="M220.74 443.5l2 2M220.74 445.5l2 -2" stroke="#1c1c1c" stroke-width="0.75"/>
<circle cx="221.74" cy="438.3" r="0.7" fill="#333"/>
<text transform="translate(221.74 436.35) scale(0.94 1)" font-size="8.2" text-anchor="middle">a</text>
<rect x="235.21" y="442.5" width="13.5" height="10" fill="#cccccc" stroke="#666" stroke-width="0.9"/>
<path d="M235.21 443.9h13.5" stroke="#5c5c5c" stroke-width="0.9"/>
<path d="M240.96 449l2 2M240.96 451l2 -2" stroke="#1c1c1c" stroke-width="0.75"/>
<circle cx="241.96" cy="470" r="0.7" fill="#333"/>
<text transform="translate(241.96 440.85) scale(0.94 1)" font-size="8.2" text-anchor="middle">a</text>
<path d="M262.18 459.2V467.5M259.48 467.5h5.4" stroke="#606060" stroke-width="0.8" fill="none"/>
<rect x="255.43" y="449.5" width="13.5" height="9.7" fill="#cccccc" stroke="#666" stroke-width="0.9"/>
<path d="M255.43 455h13.5" stroke="#5c5c5c" stroke-width="0.9"/>
<path d="M261.18 452l2 2M261.18 454l2 -2" stroke="#1c1c1c" stroke-width="0.75"/>
<circle cx="262.18" cy="434.5" r="0.7" fill="#333"/>
<text transform="translate(262.18 431.95) scale(0.94 1)" font-size="8.2" text-anchor="middle">a</text>
<path d="M282.39 445.5V458.3M279.69 458.3h5.4" stroke="#606060" stroke-width="0.8" fill="none"/>
<rect x="275.64" y="433.8" width="13.5" height="11.7" fill="#cccccc" stroke="#666" stroke-width="0.9"/>
<path d="M275.64 436.3h13.5" stroke="#5c5c5c" stroke-width="0.9"/>
<path d="M281.39 440.7l2 2M281.39 442.7l2 -2" stroke="#1c1c1c" stroke-width="0.75"/>
<text transform="translate(282.39 431.65) scale(0.94 1)" font-size="8.2" text-anchor="middle">a</text>
</g>
<g>
<rect x="35.3" y="506.3" width="120.5" height="53.5" fill="#d3dae8"/>
<text transform="translate(89.3 499.8) scale(0.94 1)" font-size="8.1" text-anchor="middle">ACE</text>
<path d="M35.3 506.3V559.8H155.8" fill="none" stroke="#5c5c5c" stroke-width="0.8"/>
<text transform="translate(32.7 509.4) scale(0.94 1)" font-size="7.2" text-anchor="end">500</text>
<text transform="translate(32.7 518.25) scale(0.94 1)" font-size="7.2" text-anchor="end">450</text>
<text transform="translate(32.7 527.1) scale(0.94 1)" font-size="7.2" text-anchor="end">400</text>
<text transform="translate(32.7 535.95) scale(0.94 1)" font-size="7.2" text-anchor="end">350</text>
<text transform="translate(32.7 544.8) scale(0.94 1)" font-size="7.2" text-anchor="end">300</text>
<text transform="translate(32.7 553.65) scale(0.94 1)" font-size="7.2" text-anchor="end">250</text>
<text transform="translate(32.7 562.5) scale(0.94 1)" font-size="7.2" text-anchor="end">200</text>
<path d="M35.3 507h-1.7M35.3 515.85h-1.7M35.3 524.7h-1.7M35.3 533.55h-1.7M35.3 542.4h-1.7M35.3 551.25h-1.7M35.3 560.1h-1.7M35.3 559.8v1.7M55.38 559.8v1.7M75.47 559.8v1.7M95.55 559.8v1.7M115.63 559.8v1.7M135.72 559.8v1.7M155.8 559.8v1.7" stroke="#444" stroke-width="0.9" fill="none"/>
<text transform="translate(45.34 569.35) scale(0.94 1)" font-size="7.1" text-anchor="middle">GHC</text>
<text transform="translate(65.42 569.35) scale(0.94 1)" font-size="7.1" text-anchor="middle">GH1</text>
<text transform="translate(85.51 569.35) scale(0.94 1)" font-size="7.1" text-anchor="middle">GH2</text>
<text transform="translate(105.59 569.35) scale(0.94 1)" font-size="7.1" text-anchor="middle">GH3</text>
<text transform="translate(125.68 569.35) scale(0.94 1)" font-size="7.1" text-anchor="middle">GH4</text>
<text transform="translate(145.76 569.35) scale(0.94 1)" font-size="7.1" text-anchor="middle">GH5</text>
<rect x="38.59" y="516.7" width="13.5" height="1" fill="#3a3a3a"/>
<path d="M44.34 516.2l2 2M44.34 518.2l2 -2" stroke="#1c1c1c" stroke-width="0.75"/>
<text transform="translate(45.34 514.15) scale(0.94 1)" font-size="8.2" text-anchor="middle">b</text>
<path d="M65.42 528.3V527.8M62.72 527.8h5.4M65.42 533.3V538.3M62.72 538.3h5.4" stroke="#606060" stroke-width="0.8" fill="none"/>
<rect x="58.67" y="528.3" width="13.5" height="5" fill="#cccccc" stroke="#666" stroke-width="0.9"/>
<path d="M58.67 530.5h13.5" stroke="#5c5c5c" stroke-width="0.9"/>
<path d="M64.42 530.3l2 2M64.42 532.3l2 -2" stroke="#1c1c1c" stroke-width="0.75"/>
<text transform="translate(65.42 526.35) scale(0.94 1)" font-size="8.2" text-anchor="middle">ab</text>
<path d="M85.51 525V520.3M82.81 520.3h5.4M85.51 530.3V530.5M82.81 530.5h5.4" stroke="#606060" stroke-width="0.8" fill="none"/>
<rect x="78.76" y="525" width="13.5" height="5.3" fill="#cccccc" stroke="#666" stroke-width="0.9"/>
<path d="M78.76 528.8h13.5" stroke="#5c5c5c" stroke-width="0.9"/>
<path d="M84.51 525.3l2 2M84.51 527.3l2 -2" stroke="#1c1c1c" stroke-width="0.75"/>
<text transform="translate(85.51 517.65) scale(0.94 1)" font-size="8.2" text-anchor="middle">ab</text>
<path d="M105.59 522.5V521.2M102.89 521.2h5.4M105.59 537.5V542.2M102.89 542.2h5.4" stroke="#606060" stroke-width="0.8" fill="none"/>
<rect x="98.84" y="522.5" width="13.5" height="15" fill="#cccccc" stroke="#666" stroke-width="0.9"/>
<path d="M98.84 529.2h13.5" stroke="#5c5c5c" stroke-width="0.9"/>
<path d="M104.59 529.3l2 2M104.59 531.3l2 -2" stroke="#1c1c1c" stroke-width="0.75"/>
<text transform="translate(105.59 518.65) scale(0.94 1)" font-size="8.2" text-anchor="middle">ab</text>
<path d="M125.68 528.7V524.5M122.98 524.5h5.4M125.68 538.3V549.2M122.98 549.2h5.4" stroke="#606060" stroke-width="0.8" fill="none"/>
<rect x="118.93" y="528.7" width="13.5" height="9.6" fill="#cccccc" stroke="#666" stroke-width="0.9"/>
<path d="M118.93 532.5h13.5" stroke="#5c5c5c" stroke-width="0.9"/>
<path d="M124.68 533.5l2 2M124.68 535.5l2 -2" stroke="#1c1c1c" stroke-width="0.75"/>
<text transform="translate(125.68 522.95) scale(0.94 1)" font-size="8.2" text-anchor="middle">a</text>
<path d="M145.76 534.5V538.7M143.06 538.7h5.4" stroke="#606060" stroke-width="0.8" fill="none"/>
<rect x="139.01" y="528.8" width="13.5" height="5.7" fill="#cccccc" stroke="#666" stroke-width="0.9"/>
<path d="M139.01 531.7h13.5" stroke="#5c5c5c" stroke-width="0.9"/>
<path d="M144.76 529.8l2 2M144.76 531.8l2 -2" stroke="#1c1c1c" stroke-width="0.75"/>
<circle cx="145.76" cy="520.8" r="0.7" fill="#333"/>
<text transform="translate(145.76 518.35) scale(0.94 1)" font-size="8.2" text-anchor="middle">ab</text>
</g>
<g>
<rect x="172" y="506.3" width="120.8" height="53.5" fill="#d3dae8"/>
<text transform="translate(226.2 499.6) scale(0.94 1)" font-size="8.1" text-anchor="middle">Chao 1</text>
<path d="M172 506.3V559.8H292.8" fill="none" stroke="#5c5c5c" stroke-width="0.8"/>
<text transform="translate(169.4 509.6) scale(0.94 1)" font-size="7.2" text-anchor="end">500</text>
<text transform="translate(169.4 518.4) scale(0.94 1)" font-size="7.2" text-anchor="end">450</text>
<text transform="translate(169.4 527.2) scale(0.94 1)" font-size="7.2" text-anchor="end">400</text>
<text transform="translate(169.4 536) scale(0.94 1)" font-size="7.2" text-anchor="end">350</text>
<text transform="translate(169.4 544.8) scale(0.94 1)" font-size="7.2" text-anchor="end">300</text>
<text transform="translate(169.4 553.6) scale(0.94 1)" font-size="7.2" text-anchor="end">250</text>
<text transform="translate(169.4 562.4) scale(0.94 1)" font-size="7.2" text-anchor="end">200</text>
<path d="M172 507.2h-1.7M172 516h-1.7M172 524.8h-1.7M172 533.6h-1.7M172 542.4h-1.7M172 551.2h-1.7M172 560h-1.7M172 559.8v1.7M192.13 559.8v1.7M212.27 559.8v1.7M232.4 559.8v1.7M252.53 559.8v1.7M272.67 559.8v1.7M292.8 559.8v1.7" stroke="#444" stroke-width="0.9" fill="none"/>
<text transform="translate(182.07 569.35) scale(0.94 1)" font-size="7.1" text-anchor="middle">GHC</text>
<text transform="translate(202.2 569.35) scale(0.94 1)" font-size="7.1" text-anchor="middle">GH1</text>
<text transform="translate(222.33 569.35) scale(0.94 1)" font-size="7.1" text-anchor="middle">GH2</text>
<text transform="translate(242.47 569.35) scale(0.94 1)" font-size="7.1" text-anchor="middle">GH3</text>
<text transform="translate(262.6 569.35) scale(0.94 1)" font-size="7.1" text-anchor="middle">GH4</text>
<text transform="translate(282.73 569.35) scale(0.94 1)" font-size="7.1" text-anchor="middle">GH5</text>
<rect x="175.32" y="516.5" width="13.5" height="1" fill="#3a3a3a"/>
<path d="M181.07 516l2 2M181.07 518l2 -2" stroke="#1c1c1c" stroke-width="0.75"/>
<text transform="translate(182.07 514.15) scale(0.94 1)" font-size="8.2" text-anchor="middle">b</text>
<path d="M202.2 528.3V528M199.5 528h5.4M202.2 533.3V538.3M199.5 538.3h5.4" stroke="#606060" stroke-width="0.8" fill="none"/>
<rect x="195.45" y="528.3" width="13.5" height="5" fill="#cccccc" stroke="#666" stroke-width="0.9"/>
<path d="M195.45 530.5h13.5" stroke="#5c5c5c" stroke-width="0.9"/>
<path d="M201.2 530.3l2 2M201.2 532.3l2 -2" stroke="#1c1c1c" stroke-width="0.75"/>
<text transform="translate(202.2 526.65) scale(0.94 1)" font-size="8.2" text-anchor="middle">ab</text>
<path d="M222.33 525V520.3M219.63 520.3h5.4M222.33 530.3V530.5M219.63 530.5h5.4" stroke="#606060" stroke-width="0.8" fill="none"/>
<rect x="215.58" y="525" width="13.5" height="5.3" fill="#cccccc" stroke="#666" stroke-width="0.9"/>
<path d="M215.58 528.8h13.5" stroke="#5c5c5c" stroke-width="0.9"/>
<path d="M221.33 525.3l2 2M221.33 527.3l2 -2" stroke="#1c1c1c" stroke-width="0.75"/>
<text transform="translate(222.33 517.95) scale(0.94 1)" font-size="8.2" text-anchor="middle">ab</text>
<path d="M242.47 522.2V516.7M239.77 516.7h5.4M242.47 537.2V541.7M239.77 541.7h5.4" stroke="#606060" stroke-width="0.8" fill="none"/>
<rect x="235.72" y="522.2" width="13.5" height="15" fill="#cccccc" stroke="#666" stroke-width="0.9"/>
<path d="M235.72 529.7h13.5" stroke="#5c5c5c" stroke-width="0.9"/>
<path d="M241.47 528.7l2 2M241.47 530.7l2 -2" stroke="#1c1c1c" stroke-width="0.75"/>
<text transform="translate(242.47 514.45) scale(0.94 1)" font-size="8.2" text-anchor="middle">ab</text>
<path d="M262.6 529.2V525M259.9 525h5.4M262.6 538.3V549.2M259.9 549.2h5.4" stroke="#606060" stroke-width="0.8" fill="none"/>
<rect x="255.85" y="529.2" width="13.5" height="9.1" fill="#cccccc" stroke="#666" stroke-width="0.9"/>
<path d="M255.85 532.5h13.5" stroke="#5c5c5c" stroke-width="0.9"/>
<path d="M261.6 533.5l2 2M261.6 535.5l2 -2" stroke="#1c1c1c" stroke-width="0.75"/>
<text transform="translate(262.6 523.35) scale(0.94 1)" font-size="8.2" text-anchor="middle">a</text>
<path d="M282.73 534.5V538.7M280.03 538.7h5.4" stroke="#606060" stroke-width="0.8" fill="none"/>
<rect x="275.98" y="528.3" width="13.5" height="6.2" fill="#cccccc" stroke="#666" stroke-width="0.9"/>
<path d="M275.98 532h13.5" stroke="#5c5c5c" stroke-width="0.9"/>
<path d="M281.73 529.3l2 2M281.73 531.3l2 -2" stroke="#1c1c1c" stroke-width="0.75"/>
<circle cx="282.73" cy="519.7" r="0.7" fill="#333"/>
<text transform="translate(282.73 517.85) scale(0.94 1)" font-size="8.2" text-anchor="middle">ab</text>
</g>
<g>
<rect x="322.5" y="424.2" width="118.7" height="53.3" fill="#d3dae8"/>
<text transform="translate(374.8 417.8) scale(0.94 1)" font-size="8.1" text-anchor="middle">Simpson</text>
<path d="M322.5 424.2V477.5H441.2" fill="none" stroke="#5c5c5c" stroke-width="0.8"/>
<text transform="translate(319.9 427.4) scale(0.94 1)" font-size="7.2" text-anchor="end">1.02</text>
<text transform="translate(319.9 436.23) scale(0.94 1)" font-size="7.2" text-anchor="end">1.00</text>
<text transform="translate(319.9 445.07) scale(0.94 1)" font-size="7.2" text-anchor="end">0.98</text>
<text transform="translate(319.9 453.9) scale(0.94 1)" font-size="7.2" text-anchor="end">0.96</text>
<text transform="translate(319.9 462.73) scale(0.94 1)" font-size="7.2" text-anchor="end">0.94</text>
<text transform="translate(319.9 471.57) scale(0.94 1)" font-size="7.2" text-anchor="end">0.92</text>
<text transform="translate(319.9 480.4) scale(0.94 1)" font-size="7.2" text-anchor="end">0.90</text>
<path d="M322.5 425h-1.7M322.5 433.83h-1.7M322.5 442.67h-1.7M322.5 451.5h-1.7M322.5 460.33h-1.7M322.5 469.17h-1.7M322.5 478h-1.7M322.5 477.5v1.7M342.28 477.5v1.7M362.07 477.5v1.7M381.85 477.5v1.7M401.63 477.5v1.7M421.42 477.5v1.7M441.2 477.5v1.7" stroke="#444" stroke-width="0.9" fill="none"/>
<text transform="translate(332.39 487.05) scale(0.94 1)" font-size="7.1" text-anchor="middle">GHC</text>
<text transform="translate(352.18 487.05) scale(0.94 1)" font-size="7.1" text-anchor="middle">GH1</text>
<text transform="translate(371.96 487.05) scale(0.94 1)" font-size="7.1" text-anchor="middle">GH2</text>
<text transform="translate(391.74 487.05) scale(0.94 1)" font-size="7.1" text-anchor="middle">GH3</text>
<text transform="translate(411.52 487.05) scale(0.94 1)" font-size="7.1" text-anchor="middle">GH4</text>
<text transform="translate(431.31 487.05) scale(0.94 1)" font-size="7.1" text-anchor="middle">GH5</text>
<rect x="325.89" y="433.85" width="13" height="0.7" fill="#3a3a3a"/>
<path d="M331.39 433.2l2 2M331.39 435.2l2 -2" stroke="#1c1c1c" stroke-width="0.75"/>
<text transform="translate(332.39 441.25) scale(0.94 1)" font-size="8.2" text-anchor="middle">a</text>
<rect x="345.68" y="434.3" width="13" height="0.8" fill="#3a3a3a"/>
<path d="M351.18 433.7l2 2M351.18 435.7l2 -2" stroke="#1c1c1c" stroke-width="0.75"/>
<text transform="translate(352.18 441.95) scale(0.94 1)" font-size="8.2" text-anchor="middle">a</text>
<rect x="365.46" y="434.15" width="13" height="0.7" fill="#3a3a3a"/>
<path d="M370.96 433.5l2 2M370.96 435.5l2 -2" stroke="#1c1c1c" stroke-width="0.75"/>
<text transform="translate(371.96 441.95) scale(0.94 1)" font-size="8.2" text-anchor="middle">a</text>
<rect x="385.24" y="434.25" width="13" height="1.5" fill="#3a3a3a"/>
<path d="M390.74 434l2 2M390.74 436l2 -2" stroke="#1c1c1c" stroke-width="0.75"/>
<text transform="translate(391.74 442.65) scale(0.94 1)" font-size="8.2" text-anchor="middle">a</text>
<rect x="405.02" y="434.5" width="13" height="9.7" fill="#cccccc" stroke="#666" stroke-width="0.9"/>
<path d="M405.02 434.9h13" stroke="#5c5c5c" stroke-width="0.9"/>
<path d="M410.52 442.8l2 2M410.52 444.8l2 -2" stroke="#1c1c1c" stroke-width="0.75"/>
<circle cx="411.52" cy="472.8" r="0.7" fill="#333"/>
<text transform="translate(411.52 451.25) scale(0.94 1)" font-size="8.2" text-anchor="middle">a</text>
<rect x="424.81" y="434.15" width="13" height="0.7" fill="#3a3a3a"/>
<path d="M430.31 433.5l2 2M430.31 435.5l2 -2" stroke="#1c1c1c" stroke-width="0.75"/>
<text transform="translate(431.31 441.65) scale(0.94 1)" font-size="8.2" text-anchor="middle">a</text>
</g>
<g>
<rect x="454.7" y="424.5" width="123.6" height="53" fill="#d3dae8"/>
<text transform="translate(512.2 417.8) scale(0.94 1)" font-size="8.1" text-anchor="middle">Shannon</text>
<path d="M454.7 424.5V477.5H578.3" fill="none" stroke="#5c5c5c" stroke-width="0.8"/>
<text transform="translate(452.1 428.2) scale(0.94 1)" font-size="7.2" text-anchor="end">12</text>
<text transform="translate(452.1 436.9) scale(0.94 1)" font-size="7.2" text-anchor="end">11</text>
<text transform="translate(452.1 445.6) scale(0.94 1)" font-size="7.2" text-anchor="end">10</text>
<text transform="translate(452.1 454.3) scale(0.94 1)" font-size="7.2" text-anchor="end">9</text>
<text transform="translate(452.1 463) scale(0.94 1)" font-size="7.2" text-anchor="end">8</text>
<text transform="translate(452.1 471.7) scale(0.94 1)" font-size="7.2" text-anchor="end">7</text>
<text transform="translate(452.1 480.4) scale(0.94 1)" font-size="7.2" text-anchor="end">6</text>
<path d="M454.7 425.8h-1.7M454.7 434.5h-1.7M454.7 443.2h-1.7M454.7 451.9h-1.7M454.7 460.6h-1.7M454.7 469.3h-1.7M454.7 478h-1.7M454.7 477.5v1.7M475.3 477.5v1.7M495.9 477.5v1.7M516.5 477.5v1.7M537.1 477.5v1.7M557.7 477.5v1.7M578.3 477.5v1.7" stroke="#444" stroke-width="0.9" fill="none"/>
<text transform="translate(465 487.05) scale(0.94 1)" font-size="7.1" text-anchor="middle">GHC</text>
<text transform="translate(485.6 487.05) scale(0.94 1)" font-size="7.1" text-anchor="middle">GH1</text>
<text transform="translate(506.2 487.05) scale(0.94 1)" font-size="7.1" text-anchor="middle">GH2</text>
<text transform="translate(526.8 487.05) scale(0.94 1)" font-size="7.1" text-anchor="middle">GH3</text>
<text transform="translate(547.4 487.05) scale(0.94 1)" font-size="7.1" text-anchor="middle">GH4</text>
<text transform="translate(568 487.05) scale(0.94 1)" font-size="7.1" text-anchor="middle">GH5</text>
<rect x="458.25" y="429.2" width="13.5" height="1" fill="#3a3a3a"/>
<path d="M464 428.7l2 2M464 430.7l2 -2" stroke="#1c1c1c" stroke-width="0.75"/>
<text transform="translate(465 437.45) scale(0.94 1)" font-size="8.2" text-anchor="middle">a</text>
<path d="M485.6 432.7V431.7M482.9 431.7h5.4" stroke="#606060" stroke-width="0.8" fill="none"/>
<rect x="478.85" y="432.7" width="13.5" height="1.2" fill="#cccccc" stroke="#666" stroke-width="0.9"/>
<path d="M478.85 433.3h13.5" stroke="#5c5c5c" stroke-width="0.9"/>
<path d="M484.6 432.3l2 2M484.6 434.3l2 -2" stroke="#1c1c1c" stroke-width="0.75"/>
<text transform="translate(485.6 440.25) scale(0.94 1)" font-size="8.2" text-anchor="middle">a</text>
<rect x="499.45" y="431.45" width="13.5" height="1.5" fill="#3a3a3a"/>
<path d="M505.2 431.2l2 2M505.2 433.2l2 -2" stroke="#1c1c1c" stroke-width="0.75"/>
<text transform="translate(506.2 439.95) scale(0.94 1)" font-size="8.2" text-anchor="middle">a</text>
<path d="M526.8 436.3V438.7M524.1 438.7h5.4" stroke="#606060" stroke-width="0.8" fill="none"/>
<rect x="520.05" y="430.5" width="13.5" height="5.8" fill="#cccccc" stroke="#666" stroke-width="0.9"/>
<path d="M520.05 433.2h13.5" stroke="#5c5c5c" stroke-width="0.9"/>
<path d="M525.8 433.2l2 2M525.8 435.2l2 -2" stroke="#1c1c1c" stroke-width="0.75"/>
<text transform="translate(526.8 445.05) scale(0.94 1)" font-size="8.2" text-anchor="middle">a</text>
<rect x="540.65" y="430.8" width="13.5" height="8.9" fill="#cccccc" stroke="#666" stroke-width="0.9"/>
<path d="M540.65 431.4h13.5" stroke="#5c5c5c" stroke-width="0.9"/>
<path d="M546.4 437.7l2 2M546.4 439.7l2 -2" stroke="#1c1c1c" stroke-width="0.75"/>
<circle cx="547.4" cy="461.7" r="0.7" fill="#333"/>
<text transform="translate(547.4 446.25) scale(0.94 1)" font-size="8.2" text-anchor="middle">a</text>
<path d="M568 430.3V429.5M565.3 429.5h5.4M568 432V434.5M565.3 434.5h5.4" stroke="#606060" stroke-width="0.8" fill="none"/>
<rect x="561.25" y="430.3" width="13.5" height="1.7" fill="#cccccc" stroke="#666" stroke-width="0.9"/>
<path d="M561.25 431.2h13.5" stroke="#5c5c5c" stroke-width="0.9"/>
<path d="M567 430.2l2 2M567 432.2l2 -2" stroke="#1c1c1c" stroke-width="0.75"/>
<text transform="translate(568 442.15) scale(0.94 1)" font-size="8.2" text-anchor="middle">a</text>
</g>
<g>
<rect x="324.5" y="506.3" width="116.7" height="53.7" fill="#d3dae8"/>
<text transform="translate(374.8 500.3) scale(0.94 1)" font-size="8.1" text-anchor="middle">ACE</text>
<path d="M324.5 506.3V560H441.2" fill="none" stroke="#5c5c5c" stroke-width="0.8"/>
<text transform="translate(321.9 509.9) scale(0.94 1)" font-size="7.2" text-anchor="end">6500</text>
<text transform="translate(321.9 517.4) scale(0.94 1)" font-size="7.2" text-anchor="end">6000</text>
<text transform="translate(321.9 524.9) scale(0.94 1)" font-size="7.2" text-anchor="end">5500</text>
<text transform="translate(321.9 532.4) scale(0.94 1)" font-size="7.2" text-anchor="end">5000</text>
<text transform="translate(321.9 539.9) scale(0.94 1)" font-size="7.2" text-anchor="end">4500</text>
<text transform="translate(321.9 547.4) scale(0.94 1)" font-size="7.2" text-anchor="end">4000</text>
<text transform="translate(321.9 554.9) scale(0.94 1)" font-size="7.2" text-anchor="end">3500</text>
<text transform="translate(321.9 562.4) scale(0.94 1)" font-size="7.2" text-anchor="end">3000</text>
<path d="M324.5 507.5h-1.7M324.5 515h-1.7M324.5 522.5h-1.7M324.5 530h-1.7M324.5 537.5h-1.7M324.5 545h-1.7M324.5 552.5h-1.7M324.5 560h-1.7M324.5 560v1.7M343.95 560v1.7M363.4 560v1.7M382.85 560v1.7M402.3 560v1.7M421.75 560v1.7M441.2 560v1.7" stroke="#444" stroke-width="0.9" fill="none"/>
<text transform="translate(334.23 569.55) scale(0.94 1)" font-size="7.1" text-anchor="middle">GHC</text>
<text transform="translate(353.68 569.55) scale(0.94 1)" font-size="7.1" text-anchor="middle">GH1</text>
<text transform="translate(373.12 569.55) scale(0.94 1)" font-size="7.1" text-anchor="middle">GH2</text>
<text transform="translate(392.57 569.55) scale(0.94 1)" font-size="7.1" text-anchor="middle">GH3</text>
<text transform="translate(412.02 569.55) scale(0.94 1)" font-size="7.1" text-anchor="middle">GH4</text>
<text transform="translate(431.48 569.55) scale(0.94 1)" font-size="7.1" text-anchor="middle">GH5</text>
<path d="M334.23 522.8V525M331.53 525h5.4" stroke="#606060" stroke-width="0.8" fill="none"/>
<rect x="327.73" y="519.2" width="13" height="3.6" fill="#cccccc" stroke="#666" stroke-width="0.9"/>
<path d="M327.73 522.2h13" stroke="#5c5c5c" stroke-width="0.9"/>
<path d="M333.23 519l2 2M333.23 521l2 -2" stroke="#1c1c1c" stroke-width="0.75"/>
<circle cx="334.23" cy="510.3" r="0.7" fill="#333"/>
<text transform="translate(334.23 531.65) scale(0.94 1)" font-size="8.2" text-anchor="middle">a</text>
<path d="M353.68 517.8V515M350.98 515h5.4M353.68 524.7V526.7M350.98 526.7h5.4" stroke="#606060" stroke-width="0.8" fill="none"/>
<rect x="347.18" y="517.8" width="13" height="6.9" fill="#cccccc" stroke="#666" stroke-width="0.9"/>
<path d="M347.18 520.8h13" stroke="#5c5c5c" stroke-width="0.9"/>
<path d="M352.68 519.8l2 2M352.68 521.8l2 -2" stroke="#1c1c1c" stroke-width="0.75"/>
<text transform="translate(353.68 533.65) scale(0.94 1)" font-size="8.2" text-anchor="middle">a</text>
<path d="M373.12 520.3V514.7M370.43 514.7h5.4M373.12 529.6V530M370.43 530h5.4" stroke="#606060" stroke-width="0.8" fill="none"/>
<rect x="366.62" y="520.3" width="13" height="9.3" fill="#cccccc" stroke="#666" stroke-width="0.9"/>
<path d="M366.62 525.4h13" stroke="#5c5c5c" stroke-width="0.9"/>
<path d="M372.12 522.8l2 2M372.12 524.8l2 -2" stroke="#1c1c1c" stroke-width="0.75"/>
<text transform="translate(373.12 536.75) scale(0.94 1)" font-size="8.2" text-anchor="middle">a</text>
<path d="M392.57 518.8V518.3M389.88 518.3h5.4M392.57 527.3V527.8M389.88 527.8h5.4" stroke="#606060" stroke-width="0.8" fill="none"/>
<rect x="386.07" y="518.8" width="13" height="8.5" fill="#cccccc" stroke="#666" stroke-width="0.9"/>
<path d="M386.07 522h13" stroke="#5c5c5c" stroke-width="0.9"/>
<path d="M391.57 521.9l2 2M391.57 523.9l2 -2" stroke="#1c1c1c" stroke-width="0.75"/>
<text transform="translate(392.57 534.15) scale(0.94 1)" font-size="8.2" text-anchor="middle">a</text>
<path d="M412.02 514.2V513.3M409.32 513.3h5.4M412.02 525.8V535M409.32 535h5.4" stroke="#606060" stroke-width="0.8" fill="none"/>
<rect x="405.52" y="514.2" width="13" height="11.6" fill="#cccccc" stroke="#666" stroke-width="0.9"/>
<path d="M405.52 518.3h13" stroke="#5c5c5c" stroke-width="0.9"/>
<path d="M411.02 520.2l2 2M411.02 522.2l2 -2" stroke="#1c1c1c" stroke-width="0.75"/>
<text transform="translate(412.02 541.65) scale(0.94 1)" font-size="8.2" text-anchor="middle">a</text>
<path d="M431.48 514.2V512M428.78 512h5.4M431.48 525.5V540.3M428.78 540.3h5.4" stroke="#606060" stroke-width="0.8" fill="none"/>
<rect x="424.98" y="514.2" width="13" height="11.3" fill="#cccccc" stroke="#666" stroke-width="0.9"/>
<path d="M424.98 518.3h13" stroke="#5c5c5c" stroke-width="0.9"/>
<path d="M430.48 521l2 2M430.48 523l2 -2" stroke="#1c1c1c" stroke-width="0.75"/>
<text transform="translate(431.48 547.15) scale(0.94 1)" font-size="8.2" text-anchor="middle">a</text>
</g>
<g>
<rect x="461.3" y="506.3" width="117.1" height="53.5" fill="#d3dae8"/>
<text transform="translate(512 500.3) scale(0.94 1)" font-size="8.1" text-anchor="middle">Chao 1</text>
<path d="M461.3 506.3V559.8H578.4" fill="none" stroke="#5c5c5c" stroke-width="0.8"/>
<text transform="translate(458.7 509.9) scale(0.94 1)" font-size="7.2" text-anchor="end">6500</text>
<text transform="translate(458.7 517.4) scale(0.94 1)" font-size="7.2" text-anchor="end">6000</text>
<text transform="translate(458.7 524.9) scale(0.94 1)" font-size="7.2" text-anchor="end">5500</text>
<text transform="translate(458.7 532.4) scale(0.94 1)" font-size="7.2" text-anchor="end">5000</text>
<text transform="translate(458.7 539.9) scale(0.94 1)" font-size="7.2" text-anchor="end">4500</text>
<text transform="translate(458.7 547.4) scale(0.94 1)" font-size="7.2" text-anchor="end">4000</text>
<text transform="translate(458.7 554.9) scale(0.94 1)" font-size="7.2" text-anchor="end">3500</text>
<text transform="translate(458.7 562.4) scale(0.94 1)" font-size="7.2" text-anchor="end">3000</text>
<path d="M461.3 507.5h-1.7M461.3 515h-1.7M461.3 522.5h-1.7M461.3 530h-1.7M461.3 537.5h-1.7M461.3 545h-1.7M461.3 552.5h-1.7M461.3 560h-1.7M461.3 559.8v1.7M480.82 559.8v1.7M500.33 559.8v1.7M519.85 559.8v1.7M539.37 559.8v1.7M558.88 559.8v1.7M578.4 559.8v1.7" stroke="#444" stroke-width="0.9" fill="none"/>
<text transform="translate(471.06 569.35) scale(0.94 1)" font-size="7.1" text-anchor="middle">GHC</text>
<text transform="translate(490.57 569.35) scale(0.94 1)" font-size="7.1" text-anchor="middle">GH1</text>
<text transform="translate(510.09 569.35) scale(0.94 1)" font-size="7.1" text-anchor="middle">GH2</text>
<text transform="translate(529.61 569.35) scale(0.94 1)" font-size="7.1" text-anchor="middle">GH3</text>
<text transform="translate(549.12 569.35) scale(0.94 1)" font-size="7.1" text-anchor="middle">GH4</text>
<text transform="translate(568.64 569.35) scale(0.94 1)" font-size="7.1" text-anchor="middle">GH5</text>
<rect x="464.41" y="521.2" width="13.3" height="3.8" fill="#cccccc" stroke="#666" stroke-width="0.9"/>
<path d="M464.41 524.5h13.3" stroke="#5c5c5c" stroke-width="0.9"/>
<path d="M470.06 521.2l2 2M470.06 523.2l2 -2" stroke="#1c1c1c" stroke-width="0.75"/>
<circle cx="471.06" cy="514.7" r="0.7" fill="#333"/>
<text transform="translate(471.06 532.45) scale(0.94 1)" font-size="8.2" text-anchor="middle">a</text>
<path d="M490.57 520.8V520M487.88 520h5.4M490.57 526.7V528.8M487.88 528.8h5.4" stroke="#606060" stroke-width="0.8" fill="none"/>
<rect x="483.93" y="520.8" width="13.3" height="5.9" fill="#cccccc" stroke="#666" stroke-width="0.9"/>
<path d="M483.93 522.5h13.3" stroke="#5c5c5c" stroke-width="0.9"/>
<path d="M489.57 522.7l2 2M489.57 524.7l2 -2" stroke="#1c1c1c" stroke-width="0.75"/>
<text transform="translate(490.57 535.75) scale(0.94 1)" font-size="8.2" text-anchor="middle">a</text>
<path d="M510.09 522.5V518.3M507.39 518.3h5.4M510.09 530.5V531.2M507.39 531.2h5.4" stroke="#606060" stroke-width="0.8" fill="none"/>
<rect x="503.44" y="522.5" width="13.3" height="8" fill="#cccccc" stroke="#666" stroke-width="0.9"/>
<path d="M503.44 527.3h13.3" stroke="#5c5c5c" stroke-width="0.9"/>
<path d="M509.09 525.2l2 2M509.09 527.2l2 -2" stroke="#1c1c1c" stroke-width="0.75"/>
<text transform="translate(510.09 538.05) scale(0.94 1)" font-size="8.2" text-anchor="middle">a</text>
<rect x="522.96" y="521.3" width="13.3" height="8.4" fill="#cccccc" stroke="#666" stroke-width="0.9"/>
<path d="M522.96 525.3h13.3" stroke="#5c5c5c" stroke-width="0.9"/>
<path d="M528.61 524.5l2 2M528.61 526.5l2 -2" stroke="#1c1c1c" stroke-width="0.75"/>
<text transform="translate(529.61 536.65) scale(0.94 1)" font-size="8.2" text-anchor="middle">a</text>
<path d="M549.12 529.5V540.3M546.42 540.3h5.4" stroke="#606060" stroke-width="0.8" fill="none"/>
<rect x="542.48" y="518.3" width="13.3" height="11.2" fill="#cccccc" stroke="#666" stroke-width="0.9"/>
<path d="M542.48 521.3h13.3" stroke="#5c5c5c" stroke-width="0.9"/>
<path d="M548.12 524.5l2 2M548.12 526.5l2 -2" stroke="#1c1c1c" stroke-width="0.75"/>
<text transform="translate(549.12 547.45) scale(0.94 1)" font-size="8.2" text-anchor="middle">a</text>
<path d="M568.64 517.5V515.3M565.94 515.3h5.4M568.64 528.3V540.8M565.94 540.8h5.4" stroke="#606060" stroke-width="0.8" fill="none"/>
<rect x="561.99" y="517.5" width="13.3" height="10.8" fill="#cccccc" stroke="#666" stroke-width="0.9"/>
<path d="M561.99 521.3h13.3" stroke="#5c5c5c" stroke-width="0.9"/>
<path d="M567.64 524l2 2M567.64 526l2 -2" stroke="#1c1c1c" stroke-width="0.75"/>
<text transform="translate(568.64 547.45) scale(0.94 1)" font-size="8.2" text-anchor="middle">a</text>
</g>
</svg></body></html>
